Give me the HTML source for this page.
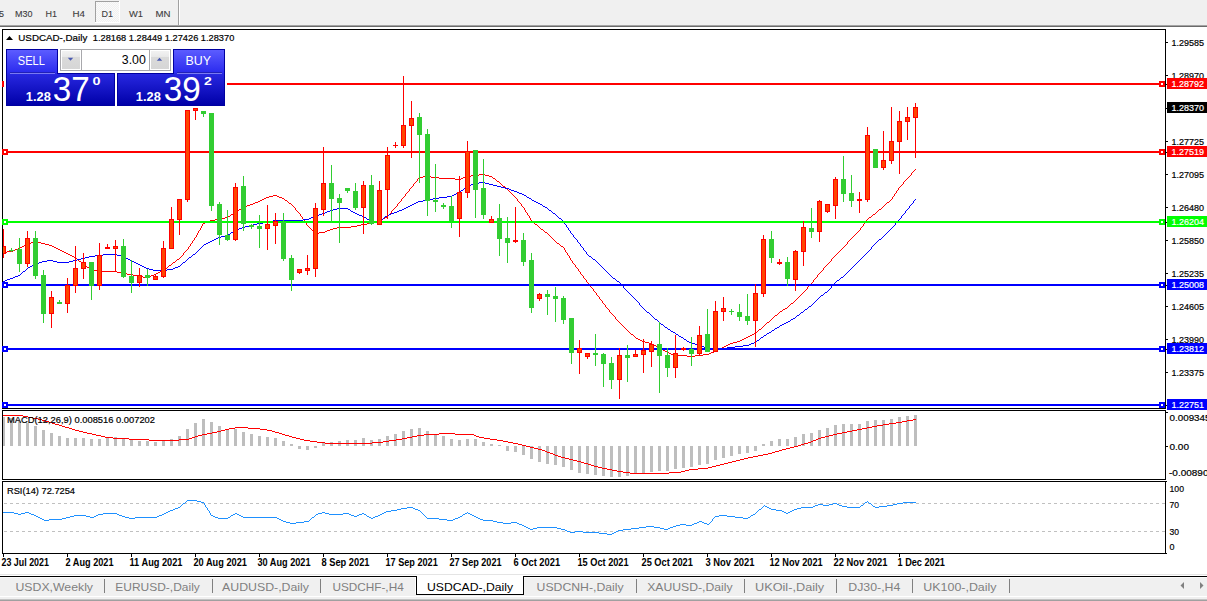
<!DOCTYPE html>
<html><head><meta charset="utf-8"><title>USDCAD-,Daily</title>
<style>html,body{margin:0;padding:0;background:#fff;width:1207px;height:601px;overflow:hidden}
text{font-family:"Liberation Sans", sans-serif;}</style></head>
<body>
<svg width="1207" height="601" viewBox="0 0 1207 601" shape-rendering="crispEdges" style="display:block">
<defs>
<clipPath id="cmain"><rect x="3" y="30" width="1162" height="378"/></clipPath>
<clipPath id="cmacd"><rect x="3" y="411" width="1162" height="68"/></clipPath>
<clipPath id="crsi"><rect x="3" y="482" width="1162" height="71"/></clipPath>
<linearGradient id="gbtn" x1="0" y1="0" x2="0" y2="1"><stop offset="0" stop-color="#5c5cff"/><stop offset="1" stop-color="#2a2aee"/></linearGradient>
<linearGradient id="gprice" x1="0" y1="0" x2="0" y2="1"><stop offset="0" stop-color="#2828e0"/><stop offset="1" stop-color="#0000a8"/></linearGradient>
<linearGradient id="garr" x1="0" y1="0" x2="0" y2="1"><stop offset="0" stop-color="#f2f2f2"/><stop offset="0.33" stop-color="#e8e8e8"/><stop offset="0.33" stop-color="#dadada"/><stop offset="1" stop-color="#d6d6d6"/></linearGradient>
<pattern id="dith" width="2" height="2" patternUnits="userSpaceOnUse"><rect width="2" height="2" fill="#f0f0f0"/><rect width="1" height="1" fill="#fafafa"/><rect x="1" y="1" width="1" height="1" fill="#fafafa"/></pattern>
</defs>
<rect x="0" y="0" width="1207" height="601" fill="#ffffff"/>
<rect x="0" y="0" width="1207" height="25" fill="#f0f0f0"/>
<rect x="0" y="25" width="1207" height="1" fill="#a4a4a4"/>
<rect x="0" y="26" width="1207" height="1" fill="#6a6a6a"/>
<rect x="95" y="1" width="25" height="22" fill="url(#dith)"/>
<rect x="95" y="1" width="25" height="1" fill="#a0a0a0"/><rect x="95" y="1" width="1" height="22" fill="#a0a0a0"/>
<rect x="95" y="22" width="25" height="1" fill="#ffffff"/><rect x="119" y="1" width="1" height="22" fill="#ffffff"/>
<rect x="178" y="0" width="1" height="25" fill="#a0a0a0"/><rect x="179" y="0" width="1" height="25" fill="#ffffff"/>
<text x="-1" y="17" font-family='"Liberation Sans", sans-serif' font-size="9.5" font-weight="400" fill="#3c3c3c" stroke="#3c3c3c" stroke-width="0.1" text-anchor="start" textLength="5" lengthAdjust="spacingAndGlyphs">5</text>
<text x="15" y="17" font-family='"Liberation Sans", sans-serif' font-size="9.5" font-weight="400" fill="#3c3c3c" stroke="#3c3c3c" stroke-width="0.1" text-anchor="start" textLength="17.5" lengthAdjust="spacingAndGlyphs">M30</text>
<text x="45.5" y="17" font-family='"Liberation Sans", sans-serif' font-size="9.5" font-weight="400" fill="#3c3c3c" stroke="#3c3c3c" stroke-width="0.1" text-anchor="start" textLength="11.5" lengthAdjust="spacingAndGlyphs">H1</text>
<text x="72.5" y="17" font-family='"Liberation Sans", sans-serif' font-size="9.5" font-weight="400" fill="#3c3c3c" stroke="#3c3c3c" stroke-width="0.1" text-anchor="start" textLength="12.5" lengthAdjust="spacingAndGlyphs">H4</text>
<text x="101.5" y="17" font-family='"Liberation Sans", sans-serif' font-size="9.5" font-weight="400" fill="#3c3c3c" stroke="#3c3c3c" stroke-width="0.1" text-anchor="start" textLength="11.5" lengthAdjust="spacingAndGlyphs">D1</text>
<text x="129" y="17" font-family='"Liberation Sans", sans-serif' font-size="9.5" font-weight="400" fill="#3c3c3c" stroke="#3c3c3c" stroke-width="0.1" text-anchor="start" textLength="14" lengthAdjust="spacingAndGlyphs">W1</text>
<text x="155.5" y="17" font-family='"Liberation Sans", sans-serif' font-size="9.5" font-weight="400" fill="#3c3c3c" stroke="#3c3c3c" stroke-width="0.1" text-anchor="start" textLength="15" lengthAdjust="spacingAndGlyphs">MN</text>
<rect x="2" y="29" width="1164" height="1" fill="#000"/><rect x="2" y="408" width="1164" height="1" fill="#000"/><rect x="2" y="29" width="1" height="380" fill="#000"/><rect x="1165" y="29" width="1" height="380" fill="#000"/>
<rect x="2" y="410" width="1164" height="1" fill="#000"/><rect x="2" y="479" width="1164" height="1" fill="#000"/><rect x="2" y="410" width="1" height="70" fill="#000"/><rect x="1165" y="410" width="1" height="70" fill="#000"/>
<rect x="2" y="481" width="1164" height="1" fill="#000"/><rect x="2" y="553" width="1164" height="1" fill="#000"/><rect x="2" y="481" width="1" height="73" fill="#000"/><rect x="1165" y="481" width="1" height="73" fill="#000"/>
<path d="M915 169h1v1h-1zM914 170h1v1h-1zM913 171h1v1h-1zM912 172h1v1h-1zM911 173h1v1h-1zM479 174h6v1h-6zM911 174h1v1h-1zM471 175h8v1h-8zM485 175h4v1h-4zM910 175h1v1h-1zM423 176h8v1h-8zM466 176h5v1h-5zM489 176h3v1h-3zM909 176h1v1h-1zM419 177h4v1h-4zM431 177h8v1h-8zM463 177h3v1h-3zM492 177h1v1h-1zM908 177h1v1h-1zM418 178h1v1h-1zM439 178h16v1h-16zM461 178h2v1h-2zM493 178h2v1h-2zM907 178h1v1h-1zM417 179h1v1h-1zM455 179h6v1h-6zM495 179h1v1h-1zM906 179h1v1h-1zM417 180h1v1h-1zM496 180h1v1h-1zM905 180h1v1h-1zM416 181h1v1h-1zM497 181h2v1h-2zM904 181h1v1h-1zM415 182h1v1h-1zM499 182h1v1h-1zM903 182h1v1h-1zM414 183h1v1h-1zM500 183h1v1h-1zM903 183h1v1h-1zM413 184h1v1h-1zM501 184h1v1h-1zM902 184h1v1h-1zM413 185h1v1h-1zM502 185h1v1h-1zM901 185h1v1h-1zM412 186h1v1h-1zM503 186h2v1h-2zM900 186h1v1h-1zM411 187h1v1h-1zM505 187h1v1h-1zM899 187h1v1h-1zM410 188h1v1h-1zM506 188h1v1h-1zM898 188h1v1h-1zM409 189h1v1h-1zM507 189h1v1h-1zM898 189h1v1h-1zM409 190h1v1h-1zM508 190h1v1h-1zM897 190h1v1h-1zM408 191h1v1h-1zM509 191h1v1h-1zM896 191h1v1h-1zM407 192h1v1h-1zM510 192h1v1h-1zM896 192h1v1h-1zM406 193h1v1h-1zM511 193h1v1h-1zM895 193h1v1h-1zM405 194h1v1h-1zM512 194h1v1h-1zM894 194h1v1h-1zM273 195h4v1h-4zM405 195h1v1h-1zM513 195h1v1h-1zM894 195h1v1h-1zM269 196h4v1h-4zM277 196h2v1h-2zM404 196h1v1h-1zM514 196h1v1h-1zM893 196h1v1h-1zM266 197h3v1h-3zM279 197h3v1h-3zM403 197h1v1h-1zM515 197h1v1h-1zM892 197h1v1h-1zM264 198h2v1h-2zM282 198h2v1h-2zM402 198h1v1h-1zM516 198h1v1h-1zM892 198h1v1h-1zM262 199h2v1h-2zM284 199h1v1h-1zM401 199h1v1h-1zM517 199h1v1h-1zM891 199h1v1h-1zM260 200h2v1h-2zM285 200h2v1h-2zM401 200h1v1h-1zM517 200h1v1h-1zM890 200h1v1h-1zM258 201h2v1h-2zM287 201h1v1h-1zM400 201h1v1h-1zM518 201h1v1h-1zM889 201h1v1h-1zM255 202h3v1h-3zM288 202h1v1h-1zM399 202h1v1h-1zM519 202h1v1h-1zM887 202h2v1h-2zM253 203h2v1h-2zM289 203h2v1h-2zM398 203h1v1h-1zM520 203h1v1h-1zM886 203h1v1h-1zM250 204h3v1h-3zM291 204h1v1h-1zM397 204h1v1h-1zM521 204h1v1h-1zM885 204h1v1h-1zM247 205h3v1h-3zM292 205h1v1h-1zM397 205h1v1h-1zM521 205h1v1h-1zM884 205h1v1h-1zM245 206h2v1h-2zM293 206h1v1h-1zM396 206h1v1h-1zM522 206h1v1h-1zM883 206h1v1h-1zM243 207h2v1h-2zM294 207h1v1h-1zM395 207h1v1h-1zM523 207h1v1h-1zM882 207h1v1h-1zM241 208h2v1h-2zM295 208h1v1h-1zM394 208h1v1h-1zM524 208h1v1h-1zM881 208h1v1h-1zM239 209h2v1h-2zM295 209h1v1h-1zM393 209h1v1h-1zM524 209h1v1h-1zM879 209h2v1h-2zM238 210h1v1h-1zM296 210h1v1h-1zM392 210h1v1h-1zM525 210h1v1h-1zM878 210h1v1h-1zM236 211h2v1h-2zM297 211h1v1h-1zM391 211h1v1h-1zM525 211h1v1h-1zM877 211h1v1h-1zM235 212h1v1h-1zM298 212h1v1h-1zM391 212h1v1h-1zM526 212h1v1h-1zM876 212h1v1h-1zM233 213h2v1h-2zM299 213h1v1h-1zM390 213h1v1h-1zM527 213h1v1h-1zM875 213h1v1h-1zM231 214h2v1h-2zM300 214h1v1h-1zM389 214h1v1h-1zM527 214h1v1h-1zM873 214h2v1h-2zM230 215h1v1h-1zM300 215h1v1h-1zM388 215h1v1h-1zM528 215h1v1h-1zM872 215h1v1h-1zM228 216h2v1h-2zM301 216h1v1h-1zM387 216h1v1h-1zM529 216h1v1h-1zM871 216h1v1h-1zM225 217h3v1h-3zM302 217h1v1h-1zM385 217h2v1h-2zM529 217h1v1h-1zM869 217h2v1h-2zM221 218h4v1h-4zM302 218h1v1h-1zM383 218h2v1h-2zM530 218h1v1h-1zM868 218h1v1h-1zM215 219h6v1h-6zM303 219h1v1h-1zM382 219h1v1h-1zM530 219h1v1h-1zM867 219h1v1h-1zM210 220h5v1h-5zM304 220h1v1h-1zM380 220h2v1h-2zM531 220h1v1h-1zM866 220h1v1h-1zM207 221h3v1h-3zM304 221h1v1h-1zM377 221h3v1h-3zM532 221h1v1h-1zM866 221h1v1h-1zM205 222h2v1h-2zM305 222h1v1h-1zM373 222h4v1h-4zM533 222h1v1h-1zM865 222h1v1h-1zM203 223h2v1h-2zM306 223h1v1h-1zM367 223h6v1h-6zM534 223h1v1h-1zM864 223h1v1h-1zM202 224h1v1h-1zM306 224h1v1h-1zM361 224h6v1h-6zM535 224h2v1h-2zM863 224h1v1h-1zM202 225h1v1h-1zM307 225h1v1h-1zM357 225h4v1h-4zM537 225h1v1h-1zM863 225h1v1h-1zM201 226h1v1h-1zM308 226h1v1h-1zM351 226h6v1h-6zM538 226h1v1h-1zM862 226h1v1h-1zM201 227h1v1h-1zM309 227h1v1h-1zM337 227h14v1h-14zM539 227h1v1h-1zM861 227h1v1h-1zM200 228h1v1h-1zM310 228h1v1h-1zM333 228h4v1h-4zM540 228h1v1h-1zM860 228h1v1h-1zM200 229h1v1h-1zM311 229h1v1h-1zM330 229h3v1h-3zM541 229h2v1h-2zM860 229h1v1h-1zM199 230h1v1h-1zM312 230h1v1h-1zM327 230h3v1h-3zM543 230h1v1h-1zM859 230h1v1h-1zM198 231h1v1h-1zM313 231h1v1h-1zM325 231h2v1h-2zM544 231h1v1h-1zM858 231h1v1h-1zM198 232h1v1h-1zM314 232h1v1h-1zM319 232h6v1h-6zM545 232h2v1h-2zM857 232h1v1h-1zM197 233h1v1h-1zM315 233h4v1h-4zM547 233h1v1h-1zM856 233h1v1h-1zM197 234h1v1h-1zM548 234h1v1h-1zM855 234h1v1h-1zM196 235h1v1h-1zM549 235h1v1h-1zM854 235h1v1h-1zM196 236h1v1h-1zM550 236h1v1h-1zM853 236h1v1h-1zM195 237h1v1h-1zM551 237h1v1h-1zM852 237h1v1h-1zM194 238h1v1h-1zM552 238h1v1h-1zM851 238h1v1h-1zM194 239h1v1h-1zM553 239h1v1h-1zM850 239h1v1h-1zM193 240h1v1h-1zM554 240h1v1h-1zM849 240h1v1h-1zM34 241h3v1h-3zM192 241h1v1h-1zM555 241h1v1h-1zM848 241h1v1h-1zM31 242h3v1h-3zM37 242h4v1h-4zM192 242h1v1h-1zM556 242h1v1h-1zM847 242h1v1h-1zM29 243h2v1h-2zM41 243h4v1h-4zM191 243h1v1h-1zM557 243h2v1h-2zM847 243h1v1h-1zM26 244h3v1h-3zM45 244h4v1h-4zM190 244h1v1h-1zM559 244h1v1h-1zM846 244h1v1h-1zM24 245h2v1h-2zM49 245h3v1h-3zM190 245h1v1h-1zM560 245h1v1h-1zM845 245h1v1h-1zM22 246h2v1h-2zM52 246h2v1h-2zM189 246h1v1h-1zM561 246h2v1h-2zM844 246h1v1h-1zM20 247h2v1h-2zM54 247h2v1h-2zM188 247h1v1h-1zM563 247h1v1h-1zM843 247h1v1h-1zM18 248h2v1h-2zM56 248h2v1h-2zM188 248h1v1h-1zM564 248h1v1h-1zM842 248h1v1h-1zM15 249h3v1h-3zM58 249h2v1h-2zM187 249h1v1h-1zM564 249h1v1h-1zM841 249h1v1h-1zM13 250h2v1h-2zM60 250h2v1h-2zM186 250h1v1h-1zM565 250h1v1h-1zM840 250h1v1h-1zM7 251h6v1h-6zM62 251h2v1h-2zM185 251h1v1h-1zM565 251h1v1h-1zM839 251h1v1h-1zM3 252h4v1h-4zM64 252h2v1h-2zM184 252h1v1h-1zM566 252h1v1h-1zM838 252h1v1h-1zM66 253h2v1h-2zM183 253h1v1h-1zM567 253h1v1h-1zM837 253h1v1h-1zM68 254h2v1h-2zM183 254h1v1h-1zM567 254h1v1h-1zM836 254h1v1h-1zM70 255h2v1h-2zM182 255h1v1h-1zM568 255h1v1h-1zM835 255h1v1h-1zM72 256h2v1h-2zM181 256h1v1h-1zM569 256h1v1h-1zM834 256h1v1h-1zM74 257h2v1h-2zM180 257h1v1h-1zM569 257h1v1h-1zM833 257h1v1h-1zM76 258h1v1h-1zM179 258h1v1h-1zM570 258h1v1h-1zM832 258h1v1h-1zM77 259h1v1h-1zM177 259h2v1h-2zM570 259h1v1h-1zM831 259h1v1h-1zM78 260h1v1h-1zM176 260h1v1h-1zM571 260h1v1h-1zM831 260h1v1h-1zM79 261h2v1h-2zM175 261h1v1h-1zM572 261h1v1h-1zM830 261h1v1h-1zM81 262h1v1h-1zM173 262h2v1h-2zM572 262h1v1h-1zM829 262h1v1h-1zM82 263h1v1h-1zM172 263h1v1h-1zM573 263h1v1h-1zM828 263h1v1h-1zM83 264h1v1h-1zM171 264h1v1h-1zM574 264h1v1h-1zM827 264h1v1h-1zM84 265h2v1h-2zM169 265h2v1h-2zM575 265h1v1h-1zM826 265h1v1h-1zM86 266h1v1h-1zM168 266h1v1h-1zM575 266h1v1h-1zM825 266h1v1h-1zM87 267h2v1h-2zM167 267h1v1h-1zM576 267h1v1h-1zM824 267h1v1h-1zM89 268h2v1h-2zM165 268h2v1h-2zM577 268h1v1h-1zM823 268h1v1h-1zM91 269h2v1h-2zM164 269h1v1h-1zM578 269h1v1h-1zM823 269h1v1h-1zM93 270h4v1h-4zM162 270h2v1h-2zM578 270h1v1h-1zM822 270h1v1h-1zM97 271h20v1h-20zM160 271h2v1h-2zM579 271h1v1h-1zM821 271h1v1h-1zM117 272h4v1h-4zM158 272h2v1h-2zM580 272h1v1h-1zM820 272h1v1h-1zM121 273h6v1h-6zM156 273h2v1h-2zM580 273h1v1h-1zM819 273h1v1h-1zM127 274h6v1h-6zM154 274h2v1h-2zM581 274h1v1h-1zM818 274h1v1h-1zM133 275h4v1h-4zM151 275h3v1h-3zM582 275h1v1h-1zM817 275h1v1h-1zM137 276h6v1h-6zM149 276h2v1h-2zM583 276h1v1h-1zM817 276h1v1h-1zM143 277h6v1h-6zM583 277h1v1h-1zM816 277h1v1h-1zM584 278h1v1h-1zM815 278h1v1h-1zM585 279h1v1h-1zM814 279h1v1h-1zM586 280h1v1h-1zM813 280h1v1h-1zM586 281h1v1h-1zM813 281h1v1h-1zM587 282h1v1h-1zM812 282h1v1h-1zM588 283h1v1h-1zM811 283h1v1h-1zM589 284h1v1h-1zM810 284h1v1h-1zM589 285h1v1h-1zM809 285h1v1h-1zM590 286h1v1h-1zM808 286h1v1h-1zM591 287h1v1h-1zM807 287h1v1h-1zM592 288h1v1h-1zM807 288h1v1h-1zM593 289h1v1h-1zM806 289h1v1h-1zM593 290h1v1h-1zM805 290h1v1h-1zM594 291h1v1h-1zM804 291h1v1h-1zM595 292h1v1h-1zM803 292h1v1h-1zM596 293h1v1h-1zM802 293h1v1h-1zM596 294h1v1h-1zM801 294h1v1h-1zM597 295h1v1h-1zM800 295h1v1h-1zM598 296h1v1h-1zM799 296h1v1h-1zM599 297h1v1h-1zM798 297h1v1h-1zM599 298h1v1h-1zM797 298h1v1h-1zM600 299h1v1h-1zM796 299h1v1h-1zM601 300h1v1h-1zM795 300h1v1h-1zM602 301h1v1h-1zM794 301h1v1h-1zM602 302h1v1h-1zM793 302h1v1h-1zM603 303h1v1h-1zM791 303h2v1h-2zM604 304h1v1h-1zM790 304h1v1h-1zM605 305h1v1h-1zM789 305h1v1h-1zM605 306h1v1h-1zM788 306h1v1h-1zM606 307h1v1h-1zM787 307h1v1h-1zM607 308h1v1h-1zM785 308h2v1h-2zM608 309h1v1h-1zM783 309h2v1h-2zM609 310h1v1h-1zM782 310h1v1h-1zM609 311h1v1h-1zM780 311h2v1h-2zM610 312h1v1h-1zM779 312h1v1h-1zM611 313h1v1h-1zM778 313h1v1h-1zM612 314h1v1h-1zM777 314h1v1h-1zM613 315h1v1h-1zM775 315h2v1h-2zM614 316h1v1h-1zM774 316h1v1h-1zM615 317h1v1h-1zM773 317h1v1h-1zM615 318h1v1h-1zM772 318h1v1h-1zM616 319h1v1h-1zM771 319h1v1h-1zM617 320h1v1h-1zM770 320h1v1h-1zM618 321h1v1h-1zM769 321h1v1h-1zM619 322h1v1h-1zM767 322h2v1h-2zM620 323h1v1h-1zM766 323h1v1h-1zM621 324h1v1h-1zM765 324h1v1h-1zM622 325h1v1h-1zM764 325h1v1h-1zM623 326h1v1h-1zM763 326h1v1h-1zM624 327h1v1h-1zM762 327h1v1h-1zM625 328h1v1h-1zM761 328h1v1h-1zM626 329h1v1h-1zM759 329h2v1h-2zM627 330h1v1h-1zM758 330h1v1h-1zM628 331h1v1h-1zM757 331h1v1h-1zM629 332h1v1h-1zM756 332h1v1h-1zM630 333h1v1h-1zM754 333h2v1h-2zM631 334h2v1h-2zM752 334h2v1h-2zM633 335h1v1h-1zM750 335h2v1h-2zM634 336h1v1h-1zM748 336h2v1h-2zM635 337h1v1h-1zM746 337h2v1h-2zM636 338h2v1h-2zM744 338h2v1h-2zM638 339h2v1h-2zM742 339h2v1h-2zM640 340h2v1h-2zM740 340h2v1h-2zM642 341h3v1h-3zM737 341h3v1h-3zM645 342h4v1h-4zM733 342h4v1h-4zM649 343h3v1h-3zM730 343h3v1h-3zM652 344h2v1h-2zM728 344h2v1h-2zM654 345h2v1h-2zM726 345h2v1h-2zM656 346h2v1h-2zM724 346h2v1h-2zM658 347h2v1h-2zM722 347h2v1h-2zM660 348h2v1h-2zM720 348h2v1h-2zM662 349h1v1h-1zM718 349h2v1h-2zM663 350h2v1h-2zM716 350h2v1h-2zM665 351h2v1h-2zM714 351h2v1h-2zM667 352h2v1h-2zM711 352h3v1h-3zM669 353h2v1h-2zM709 353h2v1h-2zM671 354h3v1h-3zM703 354h6v1h-6zM674 355h13v1h-13zM695 355h8v1h-8zM687 356h8v1h-8z" fill="#ff0000"/>
<path d="M479 182h6v1h-6zM474 183h5v1h-5zM485 183h4v1h-4zM471 184h3v1h-3zM489 184h4v1h-4zM469 185h2v1h-2zM493 185h4v1h-4zM467 186h2v1h-2zM497 186h4v1h-4zM465 187h2v1h-2zM501 187h4v1h-4zM464 188h1v1h-1zM505 188h4v1h-4zM463 189h1v1h-1zM509 189h2v1h-2zM461 190h2v1h-2zM511 190h3v1h-3zM460 191h1v1h-1zM514 191h3v1h-3zM458 192h2v1h-2zM517 192h2v1h-2zM456 193h2v1h-2zM519 193h3v1h-3zM454 194h2v1h-2zM522 194h2v1h-2zM452 195h2v1h-2zM524 195h2v1h-2zM447 196h5v1h-5zM526 196h1v1h-1zM439 197h8v1h-8zM527 197h2v1h-2zM433 198h6v1h-6zM529 198h2v1h-2zM429 199h4v1h-4zM531 199h1v1h-1zM915 199h1v1h-1zM423 200h6v1h-6zM532 200h2v1h-2zM914 200h1v1h-1zM418 201h5v1h-5zM534 201h2v1h-2zM913 201h1v1h-1zM416 202h2v1h-2zM536 202h2v1h-2zM913 202h1v1h-1zM414 203h2v1h-2zM538 203h2v1h-2zM912 203h1v1h-1zM412 204h2v1h-2zM540 204h2v1h-2zM911 204h1v1h-1zM410 205h2v1h-2zM542 205h1v1h-1zM910 205h1v1h-1zM408 206h2v1h-2zM543 206h2v1h-2zM909 206h1v1h-1zM406 207h2v1h-2zM545 207h2v1h-2zM909 207h1v1h-1zM337 208h11v1h-11zM404 208h2v1h-2zM547 208h1v1h-1zM908 208h1v1h-1zM333 209h4v1h-4zM348 209h2v1h-2zM402 209h2v1h-2zM548 209h1v1h-1zM907 209h1v1h-1zM330 210h3v1h-3zM350 210h1v1h-1zM399 210h3v1h-3zM549 210h2v1h-2zM906 210h1v1h-1zM327 211h3v1h-3zM351 211h2v1h-2zM397 211h2v1h-2zM551 211h1v1h-1zM905 211h1v1h-1zM325 212h2v1h-2zM353 212h2v1h-2zM394 212h3v1h-3zM552 212h1v1h-1zM905 212h1v1h-1zM322 213h3v1h-3zM355 213h2v1h-2zM391 213h3v1h-3zM553 213h2v1h-2zM904 213h1v1h-1zM319 214h3v1h-3zM357 214h2v1h-2zM389 214h2v1h-2zM555 214h1v1h-1zM903 214h1v1h-1zM317 215h2v1h-2zM359 215h3v1h-3zM387 215h2v1h-2zM556 215h1v1h-1zM902 215h1v1h-1zM314 216h3v1h-3zM362 216h2v1h-2zM385 216h2v1h-2zM557 216h1v1h-1zM901 216h1v1h-1zM311 217h3v1h-3zM364 217h2v1h-2zM384 217h1v1h-1zM558 217h1v1h-1zM901 217h1v1h-1zM309 218h2v1h-2zM366 218h1v1h-1zM383 218h1v1h-1zM559 218h2v1h-2zM900 218h1v1h-1zM303 219h6v1h-6zM367 219h2v1h-2zM381 219h2v1h-2zM561 219h1v1h-1zM899 219h1v1h-1zM273 220h30v1h-30zM369 220h2v1h-2zM380 220h1v1h-1zM562 220h1v1h-1zM898 220h1v1h-1zM269 221h4v1h-4zM371 221h9v1h-9zM563 221h1v1h-1zM897 221h1v1h-1zM263 222h6v1h-6zM564 222h1v1h-1zM896 222h1v1h-1zM257 223h6v1h-6zM564 223h1v1h-1zM895 223h1v1h-1zM253 224h4v1h-4zM565 224h1v1h-1zM895 224h1v1h-1zM249 225h4v1h-4zM566 225h1v1h-1zM894 225h1v1h-1zM245 226h4v1h-4zM566 226h1v1h-1zM893 226h1v1h-1zM242 227h3v1h-3zM567 227h1v1h-1zM892 227h1v1h-1zM239 228h3v1h-3zM568 228h1v1h-1zM891 228h1v1h-1zM237 229h2v1h-2zM568 229h1v1h-1zM890 229h1v1h-1zM235 230h2v1h-2zM569 230h1v1h-1zM889 230h1v1h-1zM233 231h2v1h-2zM570 231h1v1h-1zM888 231h1v1h-1zM231 232h2v1h-2zM570 232h1v1h-1zM887 232h1v1h-1zM230 233h1v1h-1zM571 233h1v1h-1zM886 233h1v1h-1zM228 234h2v1h-2zM572 234h1v1h-1zM885 234h1v1h-1zM225 235h3v1h-3zM573 235h1v1h-1zM884 235h1v1h-1zM221 236h4v1h-4zM573 236h1v1h-1zM883 236h1v1h-1zM218 237h3v1h-3zM574 237h1v1h-1zM882 237h1v1h-1zM216 238h2v1h-2zM575 238h1v1h-1zM881 238h1v1h-1zM214 239h2v1h-2zM576 239h1v1h-1zM879 239h2v1h-2zM212 240h2v1h-2zM577 240h1v1h-1zM878 240h1v1h-1zM210 241h2v1h-2zM577 241h1v1h-1zM877 241h1v1h-1zM208 242h2v1h-2zM578 242h1v1h-1zM876 242h1v1h-1zM206 243h2v1h-2zM579 243h1v1h-1zM875 243h1v1h-1zM204 244h2v1h-2zM580 244h1v1h-1zM874 244h1v1h-1zM203 245h1v1h-1zM580 245h1v1h-1zM873 245h1v1h-1zM202 246h1v1h-1zM581 246h1v1h-1zM872 246h1v1h-1zM201 247h1v1h-1zM582 247h1v1h-1zM871 247h1v1h-1zM200 248h1v1h-1zM583 248h1v1h-1zM871 248h1v1h-1zM199 249h1v1h-1zM583 249h1v1h-1zM870 249h1v1h-1zM198 250h1v1h-1zM584 250h1v1h-1zM869 250h1v1h-1zM197 251h1v1h-1zM585 251h1v1h-1zM868 251h1v1h-1zM196 252h1v1h-1zM586 252h1v1h-1zM867 252h1v1h-1zM195 253h1v1h-1zM586 253h1v1h-1zM866 253h1v1h-1zM103 254h14v1h-14zM193 254h2v1h-2zM587 254h1v1h-1zM865 254h1v1h-1zM95 255h8v1h-8zM117 255h4v1h-4zM192 255h1v1h-1zM588 255h1v1h-1zM864 255h1v1h-1zM89 256h6v1h-6zM121 256h3v1h-3zM191 256h1v1h-1zM589 256h2v1h-2zM863 256h1v1h-1zM85 257h4v1h-4zM124 257h2v1h-2zM189 257h2v1h-2zM591 257h1v1h-1zM862 257h1v1h-1zM81 258h4v1h-4zM126 258h2v1h-2zM188 258h1v1h-1zM592 258h1v1h-1zM861 258h1v1h-1zM77 259h4v1h-4zM128 259h2v1h-2zM187 259h1v1h-1zM593 259h2v1h-2zM860 259h1v1h-1zM47 260h6v1h-6zM73 260h4v1h-4zM130 260h2v1h-2zM186 260h1v1h-1zM595 260h1v1h-1zM859 260h1v1h-1zM42 261h5v1h-5zM53 261h4v1h-4zM69 261h4v1h-4zM132 261h2v1h-2zM185 261h1v1h-1zM596 261h1v1h-1zM858 261h1v1h-1zM39 262h3v1h-3zM57 262h12v1h-12zM134 262h2v1h-2zM183 262h2v1h-2zM597 262h1v1h-1zM857 262h1v1h-1zM37 263h2v1h-2zM136 263h2v1h-2zM182 263h1v1h-1zM598 263h1v1h-1zM856 263h1v1h-1zM34 264h3v1h-3zM138 264h2v1h-2zM181 264h1v1h-1zM599 264h1v1h-1zM855 264h1v1h-1zM32 265h2v1h-2zM140 265h2v1h-2zM180 265h1v1h-1zM600 265h1v1h-1zM854 265h1v1h-1zM30 266h2v1h-2zM142 266h2v1h-2zM178 266h2v1h-2zM601 266h1v1h-1zM853 266h1v1h-1zM28 267h2v1h-2zM144 267h2v1h-2zM175 267h3v1h-3zM602 267h1v1h-1zM852 267h1v1h-1zM27 268h1v1h-1zM146 268h3v1h-3zM173 268h2v1h-2zM603 268h1v1h-1zM851 268h1v1h-1zM26 269h1v1h-1zM149 269h4v1h-4zM167 269h6v1h-6zM604 269h1v1h-1zM850 269h1v1h-1zM25 270h1v1h-1zM153 270h14v1h-14zM605 270h1v1h-1zM849 270h1v1h-1zM23 271h2v1h-2zM606 271h1v1h-1zM848 271h1v1h-1zM22 272h1v1h-1zM607 272h1v1h-1zM847 272h1v1h-1zM21 273h1v1h-1zM608 273h1v1h-1zM846 273h1v1h-1zM20 274h1v1h-1zM609 274h1v1h-1zM845 274h1v1h-1zM18 275h2v1h-2zM610 275h1v1h-1zM844 275h1v1h-1zM15 276h3v1h-3zM611 276h1v1h-1zM843 276h1v1h-1zM13 277h2v1h-2zM612 277h1v1h-1zM841 277h2v1h-2zM10 278h3v1h-3zM613 278h2v1h-2zM840 278h1v1h-1zM7 279h3v1h-3zM615 279h1v1h-1zM839 279h1v1h-1zM5 280h2v1h-2zM616 280h1v1h-1zM837 280h2v1h-2zM3 281h2v1h-2zM617 281h2v1h-2zM836 281h1v1h-1zM619 282h1v1h-1zM835 282h1v1h-1zM620 283h1v1h-1zM834 283h1v1h-1zM621 284h1v1h-1zM833 284h1v1h-1zM622 285h1v1h-1zM832 285h1v1h-1zM623 286h1v1h-1zM831 286h1v1h-1zM623 287h1v1h-1zM831 287h1v1h-1zM624 288h1v1h-1zM830 288h1v1h-1zM625 289h1v1h-1zM829 289h1v1h-1zM626 290h1v1h-1zM828 290h1v1h-1zM627 291h1v1h-1zM827 291h1v1h-1zM628 292h1v1h-1zM825 292h2v1h-2zM629 293h1v1h-1zM824 293h1v1h-1zM630 294h1v1h-1zM823 294h1v1h-1zM631 295h1v1h-1zM821 295h2v1h-2zM632 296h1v1h-1zM820 296h1v1h-1zM633 297h1v1h-1zM819 297h1v1h-1zM634 298h1v1h-1zM818 298h1v1h-1zM635 299h1v1h-1zM817 299h1v1h-1zM636 300h1v1h-1zM816 300h1v1h-1zM637 301h1v1h-1zM815 301h1v1h-1zM638 302h1v1h-1zM814 302h1v1h-1zM639 303h1v1h-1zM813 303h1v1h-1zM639 304h1v1h-1zM812 304h1v1h-1zM640 305h1v1h-1zM811 305h1v1h-1zM641 306h1v1h-1zM809 306h2v1h-2zM642 307h1v1h-1zM808 307h1v1h-1zM643 308h1v1h-1zM807 308h1v1h-1zM644 309h1v1h-1zM805 309h2v1h-2zM645 310h1v1h-1zM804 310h1v1h-1zM646 311h1v1h-1zM803 311h1v1h-1zM647 312h2v1h-2zM801 312h2v1h-2zM649 313h1v1h-1zM800 313h1v1h-1zM650 314h1v1h-1zM799 314h1v1h-1zM651 315h1v1h-1zM797 315h2v1h-2zM652 316h1v1h-1zM796 316h1v1h-1zM653 317h1v1h-1zM795 317h1v1h-1zM654 318h1v1h-1zM793 318h2v1h-2zM655 319h2v1h-2zM791 319h2v1h-2zM657 320h1v1h-1zM790 320h1v1h-1zM658 321h1v1h-1zM788 321h2v1h-2zM659 322h1v1h-1zM786 322h2v1h-2zM660 323h1v1h-1zM784 323h2v1h-2zM661 324h2v1h-2zM782 324h2v1h-2zM663 325h1v1h-1zM780 325h2v1h-2zM664 326h1v1h-1zM779 326h1v1h-1zM665 327h2v1h-2zM777 327h2v1h-2zM667 328h1v1h-1zM775 328h2v1h-2zM668 329h2v1h-2zM774 329h1v1h-1zM670 330h1v1h-1zM772 330h2v1h-2zM671 331h2v1h-2zM771 331h1v1h-1zM673 332h2v1h-2zM769 332h2v1h-2zM675 333h1v1h-1zM767 333h2v1h-2zM676 334h2v1h-2zM766 334h1v1h-1zM678 335h1v1h-1zM764 335h2v1h-2zM679 336h2v1h-2zM763 336h1v1h-1zM681 337h2v1h-2zM761 337h2v1h-2zM683 338h1v1h-1zM760 338h1v1h-1zM684 339h2v1h-2zM759 339h1v1h-1zM686 340h1v1h-1zM757 340h2v1h-2zM687 341h2v1h-2zM756 341h1v1h-1zM689 342h2v1h-2zM754 342h2v1h-2zM691 343h4v1h-4zM751 343h3v1h-3zM695 344h5v1h-5zM749 344h2v1h-2zM700 345h2v1h-2zM743 345h6v1h-6zM702 346h2v1h-2zM735 346h8v1h-8zM704 347h2v1h-2zM727 347h8v1h-8zM706 348h21v1h-21z" fill="#0000ff"/>
<rect x="3" y="83" width="1162" height="2" fill="#ff0000"/>
<rect x="3" y="151" width="1162" height="2" fill="#ff0000"/>
<rect x="3" y="221" width="1162" height="2" fill="#00ff00"/>
<rect x="3" y="284" width="1162" height="2" fill="#0000ff"/>
<rect x="3" y="348" width="1162" height="2" fill="#0000ff"/>
<rect x="3" y="404" width="1162" height="2" fill="#0000ff"/>
<g clip-path="url(#cmain)">
<rect x="3" y="229" width="1" height="29" fill="#ff0000"/>
<rect x="1" y="246" width="5" height="8" fill="#ff0000"/>
<rect x="2" y="247" width="3" height="6" fill="#ff4500"/>
<rect x="11" y="248" width="1" height="4" fill="#32cd32"/>
<rect x="9" y="250" width="5" height="1" fill="#32cd32"/>
<rect x="19" y="238" width="1" height="34" fill="#32cd32"/>
<rect x="17" y="249" width="5" height="15" fill="#32cd32"/>
<rect x="18" y="250" width="3" height="13" fill="#32cd32"/>
<rect x="27" y="231" width="1" height="36" fill="#ff0000"/>
<rect x="25" y="238" width="5" height="26" fill="#ff0000"/>
<rect x="26" y="239" width="3" height="24" fill="#ff4500"/>
<rect x="35" y="231" width="1" height="48" fill="#32cd32"/>
<rect x="33" y="238" width="5" height="38" fill="#32cd32"/>
<rect x="34" y="239" width="3" height="36" fill="#32cd32"/>
<rect x="43" y="270" width="1" height="53" fill="#32cd32"/>
<rect x="41" y="275" width="5" height="39" fill="#32cd32"/>
<rect x="42" y="276" width="3" height="37" fill="#32cd32"/>
<rect x="51" y="291" width="1" height="37" fill="#ff0000"/>
<rect x="49" y="297" width="5" height="17" fill="#ff0000"/>
<rect x="50" y="298" width="3" height="15" fill="#ff4500"/>
<rect x="59" y="300" width="1" height="4" fill="#32cd32"/>
<rect x="57" y="302" width="5" height="2" fill="#32cd32"/>
<rect x="67" y="278" width="1" height="35" fill="#ff0000"/>
<rect x="65" y="285" width="5" height="19" fill="#ff0000"/>
<rect x="66" y="286" width="3" height="17" fill="#ff4500"/>
<rect x="75" y="246" width="1" height="47" fill="#ff0000"/>
<rect x="73" y="268" width="5" height="18" fill="#ff0000"/>
<rect x="74" y="269" width="3" height="16" fill="#ff4500"/>
<rect x="83" y="253" width="1" height="26" fill="#ff0000"/>
<rect x="81" y="262" width="5" height="7" fill="#ff0000"/>
<rect x="82" y="263" width="3" height="5" fill="#ff4500"/>
<rect x="91" y="262" width="1" height="38" fill="#32cd32"/>
<rect x="89" y="262" width="5" height="24" fill="#32cd32"/>
<rect x="90" y="263" width="3" height="22" fill="#32cd32"/>
<rect x="99" y="243" width="1" height="47" fill="#ff0000"/>
<rect x="97" y="255" width="5" height="31" fill="#ff0000"/>
<rect x="98" y="256" width="3" height="29" fill="#ff4500"/>
<rect x="107" y="244" width="1" height="5" fill="#ff0000"/>
<rect x="105" y="247" width="5" height="2" fill="#ff0000"/>
<rect x="115" y="240" width="1" height="31" fill="#ff0000"/>
<rect x="113" y="246" width="5" height="3" fill="#ff0000"/>
<rect x="114" y="247" width="3" height="1" fill="#ff4500"/>
<rect x="123" y="239" width="1" height="39" fill="#32cd32"/>
<rect x="121" y="246" width="5" height="31" fill="#32cd32"/>
<rect x="122" y="247" width="3" height="29" fill="#32cd32"/>
<rect x="131" y="260" width="1" height="33" fill="#32cd32"/>
<rect x="129" y="276" width="5" height="7" fill="#32cd32"/>
<rect x="130" y="277" width="3" height="5" fill="#32cd32"/>
<rect x="139" y="268" width="1" height="19" fill="#ff0000"/>
<rect x="137" y="275" width="5" height="8" fill="#ff0000"/>
<rect x="138" y="276" width="3" height="6" fill="#ff4500"/>
<rect x="147" y="269" width="1" height="17" fill="#32cd32"/>
<rect x="145" y="275" width="5" height="3" fill="#32cd32"/>
<rect x="146" y="276" width="3" height="1" fill="#32cd32"/>
<rect x="155" y="275" width="1" height="5" fill="#ff0000"/>
<rect x="153" y="276" width="5" height="4" fill="#ff0000"/>
<rect x="154" y="277" width="3" height="2" fill="#ff4500"/>
<rect x="163" y="241" width="1" height="37" fill="#ff0000"/>
<rect x="161" y="248" width="5" height="29" fill="#ff0000"/>
<rect x="162" y="249" width="3" height="27" fill="#ff4500"/>
<rect x="171" y="207" width="1" height="42" fill="#ff0000"/>
<rect x="169" y="219" width="5" height="30" fill="#ff0000"/>
<rect x="170" y="220" width="3" height="28" fill="#ff4500"/>
<rect x="179" y="199" width="1" height="36" fill="#ff0000"/>
<rect x="177" y="199" width="5" height="21" fill="#ff0000"/>
<rect x="178" y="200" width="3" height="19" fill="#ff4500"/>
<rect x="187" y="110" width="1" height="92" fill="#ff0000"/>
<rect x="185" y="110" width="5" height="90" fill="#ff0000"/>
<rect x="186" y="111" width="3" height="88" fill="#ff4500"/>
<rect x="195" y="108" width="1" height="12" fill="#ff0000"/>
<rect x="193" y="108" width="5" height="3" fill="#ff0000"/>
<rect x="194" y="109" width="3" height="1" fill="#ff4500"/>
<rect x="203" y="111" width="1" height="6" fill="#32cd32"/>
<rect x="201" y="111" width="5" height="3" fill="#32cd32"/>
<rect x="202" y="112" width="3" height="1" fill="#32cd32"/>
<rect x="211" y="113" width="1" height="98" fill="#32cd32"/>
<rect x="209" y="113" width="5" height="93" fill="#32cd32"/>
<rect x="210" y="114" width="3" height="91" fill="#32cd32"/>
<rect x="219" y="202" width="1" height="43" fill="#32cd32"/>
<rect x="217" y="204" width="5" height="31" fill="#32cd32"/>
<rect x="218" y="205" width="3" height="29" fill="#32cd32"/>
<rect x="227" y="210" width="1" height="31" fill="#32cd32"/>
<rect x="225" y="235" width="5" height="5" fill="#32cd32"/>
<rect x="226" y="236" width="3" height="3" fill="#32cd32"/>
<rect x="235" y="183" width="1" height="58" fill="#ff0000"/>
<rect x="233" y="187" width="5" height="53" fill="#ff0000"/>
<rect x="234" y="188" width="3" height="51" fill="#ff4500"/>
<rect x="243" y="176" width="1" height="55" fill="#32cd32"/>
<rect x="241" y="186" width="5" height="38" fill="#32cd32"/>
<rect x="242" y="187" width="3" height="36" fill="#32cd32"/>
<rect x="251" y="224" width="1" height="5" fill="#32cd32"/>
<rect x="249" y="225" width="5" height="2" fill="#32cd32"/>
<rect x="259" y="215" width="1" height="33" fill="#32cd32"/>
<rect x="257" y="226" width="5" height="3" fill="#32cd32"/>
<rect x="258" y="227" width="3" height="1" fill="#32cd32"/>
<rect x="267" y="205" width="1" height="45" fill="#ff0000"/>
<rect x="265" y="224" width="5" height="5" fill="#ff0000"/>
<rect x="266" y="225" width="3" height="3" fill="#ff4500"/>
<rect x="275" y="213" width="1" height="31" fill="#ff0000"/>
<rect x="273" y="221" width="5" height="5" fill="#ff0000"/>
<rect x="274" y="222" width="3" height="3" fill="#ff4500"/>
<rect x="283" y="213" width="1" height="48" fill="#32cd32"/>
<rect x="281" y="222" width="5" height="37" fill="#32cd32"/>
<rect x="282" y="223" width="3" height="35" fill="#32cd32"/>
<rect x="291" y="255" width="1" height="36" fill="#32cd32"/>
<rect x="289" y="258" width="5" height="22" fill="#32cd32"/>
<rect x="290" y="259" width="3" height="20" fill="#32cd32"/>
<rect x="299" y="269" width="1" height="5" fill="#ff0000"/>
<rect x="297" y="269" width="5" height="4" fill="#ff0000"/>
<rect x="298" y="270" width="3" height="2" fill="#ff4500"/>
<rect x="307" y="255" width="1" height="20" fill="#ff0000"/>
<rect x="305" y="268" width="5" height="3" fill="#ff0000"/>
<rect x="306" y="269" width="3" height="1" fill="#ff4500"/>
<rect x="315" y="203" width="1" height="74" fill="#ff0000"/>
<rect x="313" y="208" width="5" height="61" fill="#ff0000"/>
<rect x="314" y="209" width="3" height="59" fill="#ff4500"/>
<rect x="323" y="147" width="1" height="69" fill="#ff0000"/>
<rect x="321" y="183" width="5" height="27" fill="#ff0000"/>
<rect x="322" y="184" width="3" height="25" fill="#ff4500"/>
<rect x="331" y="165" width="1" height="58" fill="#32cd32"/>
<rect x="329" y="183" width="5" height="16" fill="#32cd32"/>
<rect x="330" y="184" width="3" height="14" fill="#32cd32"/>
<rect x="339" y="194" width="1" height="49" fill="#32cd32"/>
<rect x="337" y="198" width="5" height="5" fill="#32cd32"/>
<rect x="338" y="199" width="3" height="3" fill="#32cd32"/>
<rect x="347" y="188" width="1" height="5" fill="#32cd32"/>
<rect x="345" y="188" width="5" height="3" fill="#32cd32"/>
<rect x="346" y="189" width="3" height="1" fill="#32cd32"/>
<rect x="355" y="183" width="1" height="27" fill="#32cd32"/>
<rect x="353" y="191" width="5" height="17" fill="#32cd32"/>
<rect x="354" y="192" width="3" height="15" fill="#32cd32"/>
<rect x="363" y="181" width="1" height="53" fill="#ff0000"/>
<rect x="361" y="185" width="5" height="23" fill="#ff0000"/>
<rect x="362" y="186" width="3" height="21" fill="#ff4500"/>
<rect x="371" y="175" width="1" height="50" fill="#32cd32"/>
<rect x="369" y="185" width="5" height="39" fill="#32cd32"/>
<rect x="370" y="186" width="3" height="37" fill="#32cd32"/>
<rect x="379" y="181" width="1" height="44" fill="#ff0000"/>
<rect x="377" y="190" width="5" height="35" fill="#ff0000"/>
<rect x="378" y="191" width="3" height="33" fill="#ff4500"/>
<rect x="387" y="147" width="1" height="72" fill="#ff0000"/>
<rect x="385" y="155" width="5" height="35" fill="#ff0000"/>
<rect x="386" y="156" width="3" height="33" fill="#ff4500"/>
<rect x="395" y="142" width="1" height="6" fill="#ff0000"/>
<rect x="393" y="145" width="5" height="1" fill="#ff0000"/>
<rect x="403" y="76" width="1" height="72" fill="#ff0000"/>
<rect x="401" y="125" width="5" height="21" fill="#ff0000"/>
<rect x="402" y="126" width="3" height="19" fill="#ff4500"/>
<rect x="411" y="101" width="1" height="57" fill="#ff0000"/>
<rect x="409" y="118" width="5" height="8" fill="#ff0000"/>
<rect x="410" y="119" width="3" height="6" fill="#ff4500"/>
<rect x="419" y="113" width="1" height="70" fill="#32cd32"/>
<rect x="417" y="117" width="5" height="18" fill="#32cd32"/>
<rect x="418" y="118" width="3" height="16" fill="#32cd32"/>
<rect x="427" y="129" width="1" height="87" fill="#32cd32"/>
<rect x="425" y="134" width="5" height="67" fill="#32cd32"/>
<rect x="426" y="135" width="3" height="65" fill="#32cd32"/>
<rect x="435" y="164" width="1" height="48" fill="#32cd32"/>
<rect x="433" y="200" width="5" height="2" fill="#32cd32"/>
<rect x="443" y="203" width="1" height="6" fill="#32cd32"/>
<rect x="441" y="205" width="5" height="2" fill="#32cd32"/>
<rect x="451" y="196" width="1" height="32" fill="#32cd32"/>
<rect x="449" y="206" width="5" height="15" fill="#32cd32"/>
<rect x="450" y="207" width="3" height="13" fill="#32cd32"/>
<rect x="459" y="176" width="1" height="61" fill="#ff0000"/>
<rect x="457" y="192" width="5" height="27" fill="#ff0000"/>
<rect x="458" y="193" width="3" height="25" fill="#ff4500"/>
<rect x="467" y="141" width="1" height="57" fill="#ff0000"/>
<rect x="465" y="151" width="5" height="42" fill="#ff0000"/>
<rect x="466" y="152" width="3" height="40" fill="#ff4500"/>
<rect x="475" y="150" width="1" height="68" fill="#32cd32"/>
<rect x="473" y="150" width="5" height="40" fill="#32cd32"/>
<rect x="474" y="151" width="3" height="38" fill="#32cd32"/>
<rect x="483" y="159" width="1" height="60" fill="#32cd32"/>
<rect x="481" y="188" width="5" height="27" fill="#32cd32"/>
<rect x="482" y="189" width="3" height="25" fill="#32cd32"/>
<rect x="491" y="216" width="1" height="7" fill="#ff0000"/>
<rect x="489" y="219" width="5" height="4" fill="#ff0000"/>
<rect x="490" y="220" width="3" height="2" fill="#ff4500"/>
<rect x="499" y="204" width="1" height="52" fill="#32cd32"/>
<rect x="497" y="218" width="5" height="21" fill="#32cd32"/>
<rect x="498" y="219" width="3" height="19" fill="#32cd32"/>
<rect x="507" y="217" width="1" height="46" fill="#32cd32"/>
<rect x="505" y="238" width="5" height="5" fill="#32cd32"/>
<rect x="506" y="239" width="3" height="3" fill="#32cd32"/>
<rect x="515" y="207" width="1" height="36" fill="#ff0000"/>
<rect x="513" y="240" width="5" height="2" fill="#ff0000"/>
<rect x="523" y="233" width="1" height="33" fill="#32cd32"/>
<rect x="521" y="240" width="5" height="22" fill="#32cd32"/>
<rect x="522" y="241" width="3" height="20" fill="#32cd32"/>
<rect x="531" y="253" width="1" height="60" fill="#32cd32"/>
<rect x="529" y="260" width="5" height="48" fill="#32cd32"/>
<rect x="530" y="261" width="3" height="46" fill="#32cd32"/>
<rect x="539" y="293" width="1" height="8" fill="#ff0000"/>
<rect x="537" y="294" width="5" height="5" fill="#ff0000"/>
<rect x="538" y="295" width="3" height="3" fill="#ff4500"/>
<rect x="547" y="290" width="1" height="25" fill="#32cd32"/>
<rect x="545" y="294" width="5" height="3" fill="#32cd32"/>
<rect x="546" y="295" width="3" height="1" fill="#32cd32"/>
<rect x="555" y="287" width="1" height="35" fill="#32cd32"/>
<rect x="553" y="296" width="5" height="3" fill="#32cd32"/>
<rect x="554" y="297" width="3" height="1" fill="#32cd32"/>
<rect x="563" y="296" width="1" height="28" fill="#32cd32"/>
<rect x="561" y="298" width="5" height="22" fill="#32cd32"/>
<rect x="562" y="299" width="3" height="20" fill="#32cd32"/>
<rect x="571" y="318" width="1" height="46" fill="#32cd32"/>
<rect x="569" y="318" width="5" height="35" fill="#32cd32"/>
<rect x="570" y="319" width="3" height="33" fill="#32cd32"/>
<rect x="579" y="340" width="1" height="34" fill="#ff0000"/>
<rect x="577" y="348" width="5" height="5" fill="#ff0000"/>
<rect x="578" y="349" width="3" height="3" fill="#ff4500"/>
<rect x="587" y="353" width="1" height="6" fill="#ff0000"/>
<rect x="585" y="353" width="5" height="4" fill="#ff0000"/>
<rect x="586" y="354" width="3" height="2" fill="#ff4500"/>
<rect x="595" y="334" width="1" height="32" fill="#32cd32"/>
<rect x="593" y="353" width="5" height="2" fill="#32cd32"/>
<rect x="603" y="353" width="1" height="34" fill="#32cd32"/>
<rect x="601" y="354" width="5" height="10" fill="#32cd32"/>
<rect x="602" y="355" width="3" height="8" fill="#32cd32"/>
<rect x="611" y="357" width="1" height="32" fill="#32cd32"/>
<rect x="609" y="363" width="5" height="17" fill="#32cd32"/>
<rect x="610" y="364" width="3" height="15" fill="#32cd32"/>
<rect x="619" y="348" width="1" height="51" fill="#ff0000"/>
<rect x="617" y="355" width="5" height="25" fill="#ff0000"/>
<rect x="618" y="356" width="3" height="23" fill="#ff4500"/>
<rect x="627" y="345" width="1" height="37" fill="#32cd32"/>
<rect x="625" y="355" width="5" height="3" fill="#32cd32"/>
<rect x="626" y="356" width="3" height="1" fill="#32cd32"/>
<rect x="635" y="350" width="1" height="7" fill="#ff0000"/>
<rect x="633" y="354" width="5" height="3" fill="#ff0000"/>
<rect x="634" y="355" width="3" height="1" fill="#ff4500"/>
<rect x="643" y="339" width="1" height="34" fill="#ff0000"/>
<rect x="641" y="350" width="5" height="5" fill="#ff0000"/>
<rect x="642" y="351" width="3" height="3" fill="#ff4500"/>
<rect x="651" y="341" width="1" height="26" fill="#ff0000"/>
<rect x="649" y="344" width="5" height="8" fill="#ff0000"/>
<rect x="650" y="345" width="3" height="6" fill="#ff4500"/>
<rect x="659" y="322" width="1" height="71" fill="#32cd32"/>
<rect x="657" y="344" width="5" height="12" fill="#32cd32"/>
<rect x="658" y="345" width="3" height="10" fill="#32cd32"/>
<rect x="667" y="348" width="1" height="29" fill="#32cd32"/>
<rect x="665" y="355" width="5" height="13" fill="#32cd32"/>
<rect x="666" y="356" width="3" height="11" fill="#32cd32"/>
<rect x="675" y="335" width="1" height="43" fill="#ff0000"/>
<rect x="673" y="353" width="5" height="15" fill="#ff0000"/>
<rect x="674" y="354" width="3" height="13" fill="#ff4500"/>
<rect x="683" y="347" width="1" height="4" fill="#ff0000"/>
<rect x="681" y="348" width="5" height="2" fill="#ff0000"/>
<rect x="691" y="337" width="1" height="29" fill="#32cd32"/>
<rect x="689" y="349" width="5" height="5" fill="#32cd32"/>
<rect x="690" y="350" width="3" height="3" fill="#32cd32"/>
<rect x="699" y="326" width="1" height="29" fill="#ff0000"/>
<rect x="697" y="335" width="5" height="19" fill="#ff0000"/>
<rect x="698" y="336" width="3" height="17" fill="#ff4500"/>
<rect x="707" y="309" width="1" height="43" fill="#32cd32"/>
<rect x="705" y="334" width="5" height="18" fill="#32cd32"/>
<rect x="706" y="335" width="3" height="16" fill="#32cd32"/>
<rect x="715" y="301" width="1" height="51" fill="#ff0000"/>
<rect x="713" y="311" width="5" height="41" fill="#ff0000"/>
<rect x="714" y="312" width="3" height="39" fill="#ff4500"/>
<rect x="723" y="297" width="1" height="24" fill="#ff0000"/>
<rect x="721" y="308" width="5" height="4" fill="#ff0000"/>
<rect x="722" y="309" width="3" height="2" fill="#ff4500"/>
<rect x="731" y="309" width="1" height="6" fill="#32cd32"/>
<rect x="729" y="311" width="5" height="1" fill="#32cd32"/>
<rect x="739" y="304" width="1" height="17" fill="#32cd32"/>
<rect x="737" y="312" width="5" height="5" fill="#32cd32"/>
<rect x="738" y="313" width="3" height="3" fill="#32cd32"/>
<rect x="747" y="294" width="1" height="31" fill="#32cd32"/>
<rect x="745" y="316" width="5" height="5" fill="#32cd32"/>
<rect x="746" y="317" width="3" height="3" fill="#32cd32"/>
<rect x="755" y="284" width="1" height="63" fill="#ff0000"/>
<rect x="753" y="293" width="5" height="28" fill="#ff0000"/>
<rect x="754" y="294" width="3" height="26" fill="#ff4500"/>
<rect x="763" y="235" width="1" height="62" fill="#ff0000"/>
<rect x="761" y="239" width="5" height="55" fill="#ff0000"/>
<rect x="762" y="240" width="3" height="53" fill="#ff4500"/>
<rect x="771" y="231" width="1" height="32" fill="#32cd32"/>
<rect x="769" y="239" width="5" height="19" fill="#32cd32"/>
<rect x="770" y="240" width="3" height="17" fill="#32cd32"/>
<rect x="779" y="259" width="1" height="6" fill="#ff0000"/>
<rect x="777" y="262" width="5" height="2" fill="#ff0000"/>
<rect x="787" y="257" width="1" height="29" fill="#32cd32"/>
<rect x="785" y="262" width="5" height="17" fill="#32cd32"/>
<rect x="786" y="263" width="3" height="15" fill="#32cd32"/>
<rect x="795" y="250" width="1" height="41" fill="#ff0000"/>
<rect x="793" y="251" width="5" height="29" fill="#ff0000"/>
<rect x="794" y="252" width="3" height="27" fill="#ff4500"/>
<rect x="803" y="221" width="1" height="45" fill="#ff0000"/>
<rect x="801" y="227" width="5" height="25" fill="#ff0000"/>
<rect x="802" y="228" width="3" height="23" fill="#ff4500"/>
<rect x="811" y="208" width="1" height="30" fill="#32cd32"/>
<rect x="809" y="228" width="5" height="4" fill="#32cd32"/>
<rect x="810" y="229" width="3" height="2" fill="#32cd32"/>
<rect x="819" y="200" width="1" height="42" fill="#ff0000"/>
<rect x="817" y="201" width="5" height="31" fill="#ff0000"/>
<rect x="818" y="202" width="3" height="29" fill="#ff4500"/>
<rect x="827" y="204" width="1" height="9" fill="#ff0000"/>
<rect x="825" y="204" width="5" height="8" fill="#ff0000"/>
<rect x="826" y="205" width="3" height="6" fill="#ff4500"/>
<rect x="835" y="177" width="1" height="42" fill="#ff0000"/>
<rect x="833" y="179" width="5" height="27" fill="#ff0000"/>
<rect x="834" y="180" width="3" height="25" fill="#ff4500"/>
<rect x="843" y="156" width="1" height="46" fill="#32cd32"/>
<rect x="841" y="179" width="5" height="15" fill="#32cd32"/>
<rect x="842" y="180" width="3" height="13" fill="#32cd32"/>
<rect x="851" y="175" width="1" height="32" fill="#32cd32"/>
<rect x="849" y="193" width="5" height="8" fill="#32cd32"/>
<rect x="850" y="194" width="3" height="6" fill="#32cd32"/>
<rect x="859" y="192" width="1" height="21" fill="#ff0000"/>
<rect x="857" y="199" width="5" height="2" fill="#ff0000"/>
<rect x="867" y="127" width="1" height="75" fill="#ff0000"/>
<rect x="865" y="135" width="5" height="65" fill="#ff0000"/>
<rect x="866" y="136" width="3" height="63" fill="#ff4500"/>
<rect x="875" y="149" width="1" height="19" fill="#32cd32"/>
<rect x="873" y="149" width="5" height="19" fill="#32cd32"/>
<rect x="874" y="150" width="3" height="17" fill="#32cd32"/>
<rect x="883" y="131" width="1" height="39" fill="#ff0000"/>
<rect x="881" y="160" width="5" height="8" fill="#ff0000"/>
<rect x="882" y="161" width="3" height="6" fill="#ff4500"/>
<rect x="891" y="107" width="1" height="57" fill="#ff0000"/>
<rect x="889" y="141" width="5" height="20" fill="#ff0000"/>
<rect x="890" y="142" width="3" height="18" fill="#ff4500"/>
<rect x="899" y="111" width="1" height="63" fill="#ff0000"/>
<rect x="897" y="121" width="5" height="21" fill="#ff0000"/>
<rect x="898" y="122" width="3" height="19" fill="#ff4500"/>
<rect x="907" y="107" width="1" height="33" fill="#ff0000"/>
<rect x="905" y="117" width="5" height="5" fill="#ff0000"/>
<rect x="906" y="118" width="3" height="3" fill="#ff4500"/>
<rect x="915" y="103" width="1" height="55" fill="#ff0000"/>
<rect x="913" y="107" width="5" height="11" fill="#ff0000"/>
<rect x="914" y="108" width="3" height="9" fill="#ff4500"/>
</g>
<rect x="2" y="81" width="6" height="6" fill="#ff0000"/><rect x="4" y="83" width="2" height="2" fill="#ffffff"/>
<rect x="1159" y="81" width="6" height="6" fill="#ff0000"/><rect x="1161" y="83" width="2" height="2" fill="#ffffff"/>
<rect x="2" y="149" width="6" height="6" fill="#ff0000"/><rect x="4" y="151" width="2" height="2" fill="#ffffff"/>
<rect x="1159" y="149" width="6" height="6" fill="#ff0000"/><rect x="1161" y="151" width="2" height="2" fill="#ffffff"/>
<rect x="2" y="219" width="6" height="6" fill="#00ff00"/><rect x="4" y="221" width="2" height="2" fill="#ffffff"/>
<rect x="1159" y="219" width="6" height="6" fill="#00ff00"/><rect x="1161" y="221" width="2" height="2" fill="#ffffff"/>
<rect x="2" y="282" width="6" height="6" fill="#0000ff"/><rect x="4" y="284" width="2" height="2" fill="#ffffff"/>
<rect x="1159" y="282" width="6" height="6" fill="#0000ff"/><rect x="1161" y="284" width="2" height="2" fill="#ffffff"/>
<rect x="2" y="346" width="6" height="6" fill="#0000ff"/><rect x="4" y="348" width="2" height="2" fill="#ffffff"/>
<rect x="1159" y="346" width="6" height="6" fill="#0000ff"/><rect x="1161" y="348" width="2" height="2" fill="#ffffff"/>
<rect x="2" y="402" width="6" height="6" fill="#0000ff"/><rect x="4" y="404" width="2" height="2" fill="#ffffff"/>
<rect x="1159" y="402" width="6" height="6" fill="#0000ff"/><rect x="1161" y="404" width="2" height="2" fill="#ffffff"/>
<rect x="1166" y="42" width="2" height="1" fill="#000"/>
<text x="1171.5" y="46" font-family='"Liberation Sans", sans-serif' font-size="9.7" font-weight="400" fill="#000" stroke="#000" stroke-width="0.2" text-anchor="start" textLength="32.5" lengthAdjust="spacingAndGlyphs">1.29585</text>
<rect x="1166" y="75" width="2" height="1" fill="#000"/>
<text x="1171.5" y="79" font-family='"Liberation Sans", sans-serif' font-size="9.7" font-weight="400" fill="#000" stroke="#000" stroke-width="0.2" text-anchor="start" textLength="32.5" lengthAdjust="spacingAndGlyphs">1.28970</text>
<rect x="1166" y="108" width="2" height="1" fill="#000"/>
<rect x="1166" y="141" width="2" height="1" fill="#000"/>
<text x="1171.5" y="145" font-family='"Liberation Sans", sans-serif' font-size="9.7" font-weight="400" fill="#000" stroke="#000" stroke-width="0.2" text-anchor="start" textLength="32.5" lengthAdjust="spacingAndGlyphs">1.27725</text>
<rect x="1166" y="174" width="2" height="1" fill="#000"/>
<text x="1171.5" y="178" font-family='"Liberation Sans", sans-serif' font-size="9.7" font-weight="400" fill="#000" stroke="#000" stroke-width="0.2" text-anchor="start" textLength="32.5" lengthAdjust="spacingAndGlyphs">1.27095</text>
<rect x="1166" y="207" width="2" height="1" fill="#000"/>
<text x="1171.5" y="211" font-family='"Liberation Sans", sans-serif' font-size="9.7" font-weight="400" fill="#000" stroke="#000" stroke-width="0.2" text-anchor="start" textLength="32.5" lengthAdjust="spacingAndGlyphs">1.26480</text>
<rect x="1166" y="240" width="2" height="1" fill="#000"/>
<text x="1171.5" y="244" font-family='"Liberation Sans", sans-serif' font-size="9.7" font-weight="400" fill="#000" stroke="#000" stroke-width="0.2" text-anchor="start" textLength="32.5" lengthAdjust="spacingAndGlyphs">1.25850</text>
<rect x="1166" y="273" width="2" height="1" fill="#000"/>
<text x="1171.5" y="277" font-family='"Liberation Sans", sans-serif' font-size="9.7" font-weight="400" fill="#000" stroke="#000" stroke-width="0.2" text-anchor="start" textLength="32.5" lengthAdjust="spacingAndGlyphs">1.25235</text>
<rect x="1166" y="306" width="2" height="1" fill="#000"/>
<text x="1171.5" y="310" font-family='"Liberation Sans", sans-serif' font-size="9.7" font-weight="400" fill="#000" stroke="#000" stroke-width="0.2" text-anchor="start" textLength="32.5" lengthAdjust="spacingAndGlyphs">1.24605</text>
<rect x="1166" y="339" width="2" height="1" fill="#000"/>
<text x="1171.5" y="343" font-family='"Liberation Sans", sans-serif' font-size="9.7" font-weight="400" fill="#000" stroke="#000" stroke-width="0.2" text-anchor="start" textLength="32.5" lengthAdjust="spacingAndGlyphs">1.23990</text>
<rect x="1166" y="372" width="2" height="1" fill="#000"/>
<text x="1171.5" y="376" font-family='"Liberation Sans", sans-serif' font-size="9.7" font-weight="400" fill="#000" stroke="#000" stroke-width="0.2" text-anchor="start" textLength="32.5" lengthAdjust="spacingAndGlyphs">1.23375</text>
<rect x="1167" y="78" width="40" height="11" fill="#ff0000"/>
<text x="1171.5" y="87" font-family='"Liberation Sans", sans-serif' font-size="9.7" font-weight="400" fill="#ffffff" stroke="#ffffff" stroke-width="0.2" text-anchor="start" textLength="32.5" lengthAdjust="spacingAndGlyphs">1.28792</text>
<rect x="1167" y="146" width="40" height="11" fill="#ff0000"/>
<text x="1171.5" y="155" font-family='"Liberation Sans", sans-serif' font-size="9.7" font-weight="400" fill="#ffffff" stroke="#ffffff" stroke-width="0.2" text-anchor="start" textLength="32.5" lengthAdjust="spacingAndGlyphs">1.27519</text>
<rect x="1167" y="216" width="40" height="11" fill="#00ff00"/>
<text x="1171.5" y="225" font-family='"Liberation Sans", sans-serif' font-size="9.7" font-weight="400" fill="#ffffff" stroke="#ffffff" stroke-width="0.2" text-anchor="start" textLength="32.5" lengthAdjust="spacingAndGlyphs">1.26204</text>
<rect x="1167" y="279" width="40" height="11" fill="#0000ff"/>
<text x="1171.5" y="288" font-family='"Liberation Sans", sans-serif' font-size="9.7" font-weight="400" fill="#ffffff" stroke="#ffffff" stroke-width="0.2" text-anchor="start" textLength="32.5" lengthAdjust="spacingAndGlyphs">1.25008</text>
<rect x="1167" y="343" width="40" height="11" fill="#0000ff"/>
<text x="1171.5" y="352" font-family='"Liberation Sans", sans-serif' font-size="9.7" font-weight="400" fill="#ffffff" stroke="#ffffff" stroke-width="0.2" text-anchor="start" textLength="32.5" lengthAdjust="spacingAndGlyphs">1.23812</text>
<rect x="1167" y="399" width="40" height="11" fill="#0000ff"/>
<text x="1171.5" y="408" font-family='"Liberation Sans", sans-serif' font-size="9.7" font-weight="400" fill="#ffffff" stroke="#ffffff" stroke-width="0.2" text-anchor="start" textLength="32.5" lengthAdjust="spacingAndGlyphs">1.22751</text>
<rect x="1166" y="84" width="1" height="1" fill="#000"/>
<rect x="1166" y="152" width="1" height="1" fill="#000"/>
<rect x="1166" y="222" width="1" height="1" fill="#000"/>
<rect x="1166" y="285" width="1" height="1" fill="#000"/>
<rect x="1166" y="349" width="1" height="1" fill="#000"/>
<rect x="1166" y="405" width="1" height="1" fill="#000"/>
<rect x="1167" y="102" width="40" height="11" fill="#000"/>
<text x="1171.5" y="111" font-family='"Liberation Sans", sans-serif' font-size="9.7" font-weight="400" fill="#fff" stroke="#fff" stroke-width="0.2" text-anchor="start" textLength="32.5" lengthAdjust="spacingAndGlyphs">1.28370</text>
<polygon points="6,40 13,40 9.5,36" fill="#000" shape-rendering="auto"/>
<text x="18.3" y="41" font-family='"Liberation Sans", sans-serif' font-size="9.5" font-weight="400" fill="#000" stroke="#000" stroke-width="0.2" text-anchor="start" textLength="69" lengthAdjust="spacingAndGlyphs">USDCAD-,Daily</text>
<text x="92.8" y="41" font-family='"Liberation Sans", sans-serif' font-size="9.5" font-weight="400" fill="#000" stroke="#000" stroke-width="0.2" text-anchor="start" textLength="141.5" lengthAdjust="spacingAndGlyphs">1.28168 1.28449 1.27426 1.28370</text>
<g clip-path="url(#cmacd)">
<rect x="2" y="417" width="3" height="29" fill="#bebebe"/>
<rect x="10" y="418" width="3" height="28" fill="#bebebe"/>
<rect x="18" y="421" width="3" height="25" fill="#bebebe"/>
<rect x="26" y="423" width="3" height="23" fill="#bebebe"/>
<rect x="34" y="426" width="3" height="20" fill="#bebebe"/>
<rect x="42" y="430" width="3" height="16" fill="#bebebe"/>
<rect x="50" y="433" width="3" height="13" fill="#bebebe"/>
<rect x="58" y="436" width="3" height="10" fill="#bebebe"/>
<rect x="66" y="438" width="3" height="8" fill="#bebebe"/>
<rect x="74" y="438" width="3" height="8" fill="#bebebe"/>
<rect x="82" y="438" width="3" height="8" fill="#bebebe"/>
<rect x="90" y="439" width="3" height="7" fill="#bebebe"/>
<rect x="98" y="439" width="3" height="7" fill="#bebebe"/>
<rect x="106" y="437" width="3" height="9" fill="#bebebe"/>
<rect x="114" y="437" width="3" height="9" fill="#bebebe"/>
<rect x="122" y="439" width="3" height="7" fill="#bebebe"/>
<rect x="130" y="440" width="3" height="6" fill="#bebebe"/>
<rect x="138" y="441" width="3" height="5" fill="#bebebe"/>
<rect x="146" y="441" width="3" height="5" fill="#bebebe"/>
<rect x="154" y="442" width="3" height="4" fill="#bebebe"/>
<rect x="162" y="440" width="3" height="6" fill="#bebebe"/>
<rect x="170" y="439" width="3" height="7" fill="#bebebe"/>
<rect x="178" y="436" width="3" height="10" fill="#bebebe"/>
<rect x="186" y="429" width="3" height="17" fill="#bebebe"/>
<rect x="194" y="423" width="3" height="23" fill="#bebebe"/>
<rect x="202" y="419" width="3" height="27" fill="#bebebe"/>
<rect x="210" y="422" width="3" height="24" fill="#bebebe"/>
<rect x="218" y="426" width="3" height="20" fill="#bebebe"/>
<rect x="226" y="429" width="3" height="17" fill="#bebebe"/>
<rect x="234" y="429" width="3" height="17" fill="#bebebe"/>
<rect x="242" y="432" width="3" height="14" fill="#bebebe"/>
<rect x="250" y="434" width="3" height="12" fill="#bebebe"/>
<rect x="258" y="436" width="3" height="10" fill="#bebebe"/>
<rect x="266" y="437" width="3" height="9" fill="#bebebe"/>
<rect x="274" y="438" width="3" height="8" fill="#bebebe"/>
<rect x="282" y="441" width="3" height="5" fill="#bebebe"/>
<rect x="290" y="444" width="3" height="2" fill="#bebebe"/>
<rect x="298" y="446" width="3" height="3" fill="#bebebe"/>
<rect x="306" y="446" width="3" height="4" fill="#bebebe"/>
<rect x="314" y="446" width="3" height="2" fill="#bebebe"/>
<rect x="322" y="442" width="3" height="4" fill="#bebebe"/>
<rect x="330" y="442" width="3" height="4" fill="#bebebe"/>
<rect x="338" y="441" width="3" height="5" fill="#bebebe"/>
<rect x="346" y="440" width="3" height="6" fill="#bebebe"/>
<rect x="354" y="440" width="3" height="6" fill="#bebebe"/>
<rect x="362" y="438" width="3" height="8" fill="#bebebe"/>
<rect x="370" y="440" width="3" height="6" fill="#bebebe"/>
<rect x="378" y="439" width="3" height="7" fill="#bebebe"/>
<rect x="386" y="436" width="3" height="10" fill="#bebebe"/>
<rect x="394" y="434" width="3" height="12" fill="#bebebe"/>
<rect x="402" y="431" width="3" height="15" fill="#bebebe"/>
<rect x="410" y="429" width="3" height="17" fill="#bebebe"/>
<rect x="418" y="428" width="3" height="18" fill="#bebebe"/>
<rect x="426" y="431" width="3" height="15" fill="#bebebe"/>
<rect x="434" y="435" width="3" height="11" fill="#bebebe"/>
<rect x="442" y="436" width="3" height="10" fill="#bebebe"/>
<rect x="450" y="439" width="3" height="7" fill="#bebebe"/>
<rect x="458" y="440" width="3" height="6" fill="#bebebe"/>
<rect x="466" y="439" width="3" height="7" fill="#bebebe"/>
<rect x="474" y="439" width="3" height="7" fill="#bebebe"/>
<rect x="482" y="442" width="3" height="4" fill="#bebebe"/>
<rect x="490" y="444" width="3" height="2" fill="#bebebe"/>
<rect x="498" y="445" width="3" height="1" fill="#bebebe"/>
<rect x="506" y="446" width="3" height="5" fill="#bebebe"/>
<rect x="514" y="446" width="3" height="6" fill="#bebebe"/>
<rect x="522" y="446" width="3" height="9" fill="#bebebe"/>
<rect x="530" y="446" width="3" height="13" fill="#bebebe"/>
<rect x="538" y="446" width="3" height="16" fill="#bebebe"/>
<rect x="546" y="446" width="3" height="18" fill="#bebebe"/>
<rect x="554" y="446" width="3" height="19" fill="#bebebe"/>
<rect x="562" y="446" width="3" height="21" fill="#bebebe"/>
<rect x="570" y="446" width="3" height="24" fill="#bebebe"/>
<rect x="578" y="446" width="3" height="27" fill="#bebebe"/>
<rect x="586" y="446" width="3" height="28" fill="#bebebe"/>
<rect x="594" y="446" width="3" height="29" fill="#bebebe"/>
<rect x="602" y="446" width="3" height="30" fill="#bebebe"/>
<rect x="610" y="446" width="3" height="31" fill="#bebebe"/>
<rect x="618" y="446" width="3" height="31" fill="#bebebe"/>
<rect x="626" y="446" width="3" height="30" fill="#bebebe"/>
<rect x="634" y="446" width="3" height="28" fill="#bebebe"/>
<rect x="642" y="446" width="3" height="28" fill="#bebebe"/>
<rect x="650" y="446" width="3" height="26" fill="#bebebe"/>
<rect x="658" y="446" width="3" height="25" fill="#bebebe"/>
<rect x="666" y="446" width="3" height="25" fill="#bebebe"/>
<rect x="674" y="446" width="3" height="23" fill="#bebebe"/>
<rect x="682" y="446" width="3" height="22" fill="#bebebe"/>
<rect x="690" y="446" width="3" height="21" fill="#bebebe"/>
<rect x="698" y="446" width="3" height="19" fill="#bebebe"/>
<rect x="706" y="446" width="3" height="18" fill="#bebebe"/>
<rect x="714" y="446" width="3" height="14" fill="#bebebe"/>
<rect x="722" y="446" width="3" height="12" fill="#bebebe"/>
<rect x="730" y="446" width="3" height="10" fill="#bebebe"/>
<rect x="738" y="446" width="3" height="8" fill="#bebebe"/>
<rect x="746" y="446" width="3" height="7" fill="#bebebe"/>
<rect x="754" y="446" width="3" height="5" fill="#bebebe"/>
<rect x="762" y="444" width="3" height="2" fill="#bebebe"/>
<rect x="770" y="441" width="3" height="5" fill="#bebebe"/>
<rect x="778" y="439" width="3" height="7" fill="#bebebe"/>
<rect x="786" y="439" width="3" height="7" fill="#bebebe"/>
<rect x="794" y="437" width="3" height="9" fill="#bebebe"/>
<rect x="802" y="434" width="3" height="12" fill="#bebebe"/>
<rect x="810" y="433" width="3" height="13" fill="#bebebe"/>
<rect x="818" y="430" width="3" height="16" fill="#bebebe"/>
<rect x="826" y="428" width="3" height="18" fill="#bebebe"/>
<rect x="834" y="425" width="3" height="21" fill="#bebebe"/>
<rect x="842" y="424" width="3" height="22" fill="#bebebe"/>
<rect x="850" y="424" width="3" height="22" fill="#bebebe"/>
<rect x="858" y="424" width="3" height="22" fill="#bebebe"/>
<rect x="866" y="421" width="3" height="25" fill="#bebebe"/>
<rect x="874" y="420" width="3" height="26" fill="#bebebe"/>
<rect x="882" y="420" width="3" height="26" fill="#bebebe"/>
<rect x="890" y="419" width="3" height="27" fill="#bebebe"/>
<rect x="898" y="417" width="3" height="29" fill="#bebebe"/>
<rect x="906" y="416" width="3" height="30" fill="#bebebe"/>
<rect x="914" y="415" width="3" height="31" fill="#bebebe"/>
</g>
<path d="M3 415h20v1h-20zM23 416h5v1h-5zM28 417h5v1h-5zM33 418h5v1h-5zM38 419h4v1h-4zM913 419h3v1h-3zM42 420h3v1h-3zM907 420h6v1h-6zM45 421h4v1h-4zM902 421h5v1h-5zM49 422h3v1h-3zM896 422h6v1h-6zM52 423h3v1h-3zM889 423h7v1h-7zM55 424h4v1h-4zM883 424h6v1h-6zM59 425h3v1h-3zM877 425h6v1h-6zM62 426h3v1h-3zM872 426h5v1h-5zM65 427h4v1h-4zM235 427h13v1h-13zM867 427h5v1h-5zM69 428h3v1h-3zM229 428h6v1h-6zM248 428h12v1h-12zM862 428h5v1h-5zM72 429h3v1h-3zM225 429h4v1h-4zM260 429h7v1h-7zM857 429h5v1h-5zM75 430h4v1h-4zM221 430h4v1h-4zM267 430h5v1h-5zM852 430h5v1h-5zM79 431h4v1h-4zM217 431h4v1h-4zM272 431h3v1h-3zM847 431h5v1h-5zM83 432h4v1h-4zM212 432h5v1h-5zM275 432h4v1h-4zM842 432h5v1h-5zM87 433h5v1h-5zM207 433h5v1h-5zM279 433h3v1h-3zM439 433h16v1h-16zM837 433h5v1h-5zM92 434h4v1h-4zM202 434h5v1h-5zM282 434h3v1h-3zM424 434h15v1h-15zM455 434h19v1h-19zM833 434h4v1h-4zM96 435h5v1h-5zM198 435h4v1h-4zM285 435h4v1h-4zM417 435h7v1h-7zM474 435h2v1h-2zM829 435h4v1h-4zM101 436h4v1h-4zM195 436h3v1h-3zM289 436h3v1h-3zM412 436h5v1h-5zM476 436h3v1h-3zM825 436h4v1h-4zM105 437h8v1h-8zM192 437h3v1h-3zM292 437h4v1h-4zM407 437h5v1h-5zM479 437h5v1h-5zM821 437h4v1h-4zM113 438h16v1h-16zM189 438h3v1h-3zM296 438h4v1h-4zM402 438h5v1h-5zM484 438h6v1h-6zM818 438h3v1h-3zM129 439h20v1h-20zM179 439h10v1h-10zM300 439h4v1h-4zM396 439h6v1h-6zM490 439h7v1h-7zM816 439h2v1h-2zM149 440h30v1h-30zM304 440h6v1h-6zM389 440h7v1h-7zM497 440h6v1h-6zM813 440h3v1h-3zM310 441h7v1h-7zM383 441h6v1h-6zM503 441h5v1h-5zM811 441h2v1h-2zM317 442h8v1h-8zM372 442h11v1h-11zM508 442h5v1h-5zM808 442h3v1h-3zM325 443h47v1h-47zM513 443h5v1h-5zM804 443h4v1h-4zM518 444h4v1h-4zM801 444h3v1h-3zM522 445h4v1h-4zM798 445h3v1h-3zM526 446h4v1h-4zM794 446h4v1h-4zM530 447h4v1h-4zM790 447h4v1h-4zM534 448h4v1h-4zM786 448h4v1h-4zM538 449h4v1h-4zM782 449h4v1h-4zM542 450h3v1h-3zM779 450h3v1h-3zM545 451h2v1h-2zM775 451h4v1h-4zM547 452h3v1h-3zM772 452h3v1h-3zM550 453h3v1h-3zM768 453h4v1h-4zM553 454h2v1h-2zM763 454h5v1h-5zM555 455h3v1h-3zM758 455h5v1h-5zM558 456h3v1h-3zM753 456h5v1h-5zM561 457h4v1h-4zM748 457h5v1h-5zM565 458h4v1h-4zM744 458h4v1h-4zM569 459h4v1h-4zM740 459h4v1h-4zM573 460h4v1h-4zM736 460h4v1h-4zM577 461h4v1h-4zM732 461h4v1h-4zM581 462h3v1h-3zM728 462h4v1h-4zM584 463h4v1h-4zM724 463h4v1h-4zM588 464h3v1h-3zM720 464h4v1h-4zM591 465h3v1h-3zM716 465h4v1h-4zM594 466h4v1h-4zM712 466h4v1h-4zM598 467h4v1h-4zM708 467h4v1h-4zM602 468h5v1h-5zM698 468h10v1h-10zM607 469h5v1h-5zM689 469h9v1h-9zM612 470h5v1h-5zM685 470h4v1h-4zM617 471h6v1h-6zM681 471h4v1h-4zM623 472h7v1h-7zM669 472h12v1h-12zM630 473h39v1h-39z" fill="#ff0000"/>
<text x="7" y="423" font-family='"Liberation Sans", sans-serif' font-size="9.5" font-weight="400" fill="#000" stroke="#000" stroke-width="0.2" text-anchor="start" textLength="148" lengthAdjust="spacingAndGlyphs">MACD(12,26,9) 0.008516 0.007202</text>
<rect x="1166" y="446" width="2" height="1" fill="#000"/>
<rect x="1166" y="412" width="2" height="1" fill="#000"/>
<text x="1169.5" y="421" font-family='"Liberation Sans", sans-serif' font-size="9.5" font-weight="400" fill="#000" stroke="#000" stroke-width="0.2" text-anchor="start" textLength="41" lengthAdjust="spacingAndGlyphs">0.009345</text>
<text x="1169.5" y="450" font-family='"Liberation Sans", sans-serif' font-size="9.5" font-weight="400" fill="#000" stroke="#000" stroke-width="0.2" text-anchor="start" textLength="19.5" lengthAdjust="spacingAndGlyphs">0.00</text>
<text x="1169" y="476" font-family='"Liberation Sans", sans-serif' font-size="9.5" font-weight="400" fill="#000" stroke="#000" stroke-width="0.2" text-anchor="start" textLength="45" lengthAdjust="spacingAndGlyphs">-0.008902</text>
<line x1="3" y1="503.5" x2="1165" y2="503.5" stroke="#c0c0c0" stroke-width="1" stroke-dasharray="3,3" stroke-dashoffset="-1"/>
<line x1="3" y1="531.5" x2="1165" y2="531.5" stroke="#c0c0c0" stroke-width="1" stroke-dasharray="3,3" stroke-dashoffset="-1"/>
<path d="M187 500h10v1h-10zM186 501h1v1h-1zM197 501h4v1h-4zM867 501h1v1h-1zM185 502h1v1h-1zM201 502h3v1h-3zM865 502h2v1h-2zM868 502h1v1h-1zM903 502h13v1h-13zM183 503h2v1h-2zM204 503h1v1h-1zM833 503h4v1h-4zM864 503h1v1h-1zM869 503h2v1h-2zM897 503h6v1h-6zM182 504h1v1h-1zM204 504h1v1h-1zM818 504h5v1h-5zM829 504h4v1h-4zM837 504h2v1h-2zM863 504h1v1h-1zM871 504h1v1h-1zM893 504h4v1h-4zM181 505h1v1h-1zM205 505h1v1h-1zM764 505h1v1h-1zM815 505h3v1h-3zM823 505h6v1h-6zM839 505h3v1h-3zM861 505h2v1h-2zM872 505h1v1h-1zM887 505h6v1h-6zM180 506h1v1h-1zM205 506h1v1h-1zM763 506h1v1h-1zM765 506h2v1h-2zM813 506h2v1h-2zM842 506h5v1h-5zM860 506h1v1h-1zM873 506h2v1h-2zM879 506h8v1h-8zM178 507h2v1h-2zM206 507h1v1h-1zM407 507h6v1h-6zM762 507h1v1h-1zM767 507h2v1h-2zM801 507h12v1h-12zM847 507h13v1h-13zM875 507h4v1h-4zM175 508h3v1h-3zM207 508h1v1h-1zM401 508h6v1h-6zM413 508h2v1h-2zM761 508h1v1h-1zM769 508h2v1h-2zM797 508h4v1h-4zM173 509h2v1h-2zM207 509h1v1h-1zM397 509h4v1h-4zM415 509h3v1h-3zM759 509h2v1h-2zM771 509h5v1h-5zM794 509h3v1h-3zM170 510h3v1h-3zM208 510h1v1h-1zM391 510h6v1h-6zM418 510h2v1h-2zM758 510h1v1h-1zM776 510h6v1h-6zM792 510h2v1h-2zM168 511h2v1h-2zM209 511h1v1h-1zM386 511h5v1h-5zM420 511h1v1h-1zM757 511h1v1h-1zM782 511h2v1h-2zM790 511h2v1h-2zM3 512h11v1h-11zM25 512h4v1h-4zM166 512h2v1h-2zM209 512h1v1h-1zM322 512h3v1h-3zM384 512h2v1h-2zM421 512h1v1h-1zM467 512h1v1h-1zM756 512h1v1h-1zM784 512h2v1h-2zM788 512h2v1h-2zM14 513h4v1h-4zM21 513h4v1h-4zM29 513h2v1h-2zM103 513h14v1h-14zM164 513h2v1h-2zM210 513h1v1h-1zM235 513h2v1h-2zM318 513h4v1h-4zM325 513h4v1h-4zM343 513h6v1h-6zM362 513h2v1h-2zM382 513h2v1h-2zM422 513h1v1h-1zM465 513h2v1h-2zM468 513h2v1h-2zM755 513h1v1h-1zM786 513h2v1h-2zM18 514h3v1h-3zM31 514h3v1h-3zM98 514h5v1h-5zM117 514h2v1h-2zM162 514h2v1h-2zM210 514h1v1h-1zM233 514h2v1h-2zM237 514h2v1h-2zM316 514h2v1h-2zM329 514h14v1h-14zM349 514h2v1h-2zM359 514h3v1h-3zM364 514h2v1h-2zM380 514h2v1h-2zM423 514h1v1h-1zM463 514h2v1h-2zM470 514h2v1h-2zM753 514h2v1h-2zM34 515h2v1h-2zM74 515h12v1h-12zM96 515h2v1h-2zM119 515h3v1h-3zM159 515h3v1h-3zM211 515h2v1h-2zM231 515h2v1h-2zM239 515h2v1h-2zM315 515h1v1h-1zM351 515h3v1h-3zM357 515h2v1h-2zM366 515h1v1h-1zM378 515h2v1h-2zM424 515h1v1h-1zM462 515h1v1h-1zM472 515h2v1h-2zM719 515h8v1h-8zM751 515h2v1h-2zM36 516h2v1h-2zM70 516h4v1h-4zM86 516h4v1h-4zM94 516h2v1h-2zM122 516h3v1h-3zM157 516h2v1h-2zM213 516h2v1h-2zM230 516h1v1h-1zM241 516h2v1h-2zM314 516h1v1h-1zM354 516h3v1h-3zM367 516h2v1h-2zM375 516h3v1h-3zM425 516h1v1h-1zM460 516h2v1h-2zM474 516h2v1h-2zM715 516h4v1h-4zM727 516h8v1h-8zM750 516h1v1h-1zM38 517h2v1h-2zM66 517h4v1h-4zM90 517h4v1h-4zM125 517h4v1h-4zM135 517h22v1h-22zM215 517h3v1h-3zM228 517h2v1h-2zM243 517h34v1h-34zM312 517h2v1h-2zM369 517h2v1h-2zM373 517h2v1h-2zM426 517h1v1h-1zM458 517h2v1h-2zM476 517h2v1h-2zM714 517h1v1h-1zM735 517h8v1h-8zM748 517h2v1h-2zM40 518h2v1h-2zM62 518h4v1h-4zM129 518h6v1h-6zM218 518h10v1h-10zM277 518h2v1h-2zM311 518h1v1h-1zM371 518h2v1h-2zM427 518h12v1h-12zM455 518h3v1h-3zM478 518h2v1h-2zM713 518h1v1h-1zM743 518h5v1h-5zM42 519h2v1h-2zM49 519h13v1h-13zM279 519h2v1h-2zM310 519h1v1h-1zM439 519h8v1h-8zM453 519h2v1h-2zM480 519h3v1h-3zM712 519h1v1h-1zM44 520h5v1h-5zM281 520h2v1h-2zM309 520h1v1h-1zM447 520h6v1h-6zM483 520h10v1h-10zM712 520h1v1h-1zM283 521h3v1h-3zM304 521h5v1h-5zM493 521h4v1h-4zM699 521h3v1h-3zM711 521h1v1h-1zM286 522h4v1h-4zM296 522h8v1h-8zM497 522h6v1h-6zM511 522h6v1h-6zM697 522h2v1h-2zM702 522h2v1h-2zM710 522h1v1h-1zM290 523h6v1h-6zM503 523h8v1h-8zM517 523h2v1h-2zM694 523h3v1h-3zM704 523h3v1h-3zM709 523h1v1h-1zM519 524h3v1h-3zM680 524h6v1h-6zM692 524h2v1h-2zM707 524h2v1h-2zM522 525h2v1h-2zM676 525h4v1h-4zM686 525h6v1h-6zM524 526h2v1h-2zM646 526h8v1h-8zM673 526h3v1h-3zM526 527h2v1h-2zM537 527h20v1h-20zM639 527h7v1h-7zM654 527h6v1h-6zM670 527h3v1h-3zM528 528h2v1h-2zM533 528h4v1h-4zM557 528h4v1h-4zM631 528h8v1h-8zM660 528h4v1h-4zM668 528h2v1h-2zM530 529h3v1h-3zM561 529h4v1h-4zM623 529h8v1h-8zM664 529h4v1h-4zM565 530h2v1h-2zM618 530h5v1h-5zM567 531h3v1h-3zM575 531h8v1h-8zM616 531h2v1h-2zM570 532h5v1h-5zM583 532h16v1h-16zM614 532h2v1h-2zM599 533h8v1h-8zM612 533h2v1h-2zM607 534h5v1h-5z" fill="#1e90ff"/>
<text x="7" y="494" font-family='"Liberation Sans", sans-serif' font-size="9.5" font-weight="400" fill="#000" stroke="#000" stroke-width="0.2" text-anchor="start" textLength="68" lengthAdjust="spacingAndGlyphs">RSI(14) 72.7254</text>
<text x="1169.5" y="492" font-family='"Liberation Sans", sans-serif' font-size="9.5" font-weight="400" fill="#000" stroke="#000" stroke-width="0.2" text-anchor="start" textLength="14.5" lengthAdjust="spacingAndGlyphs">100</text>
<text x="1169.5" y="507.5" font-family='"Liberation Sans", sans-serif' font-size="9.5" font-weight="400" fill="#000" stroke="#000" stroke-width="0.2" text-anchor="start" textLength="9.5" lengthAdjust="spacingAndGlyphs">70</text>
<text x="1169.5" y="535" font-family='"Liberation Sans", sans-serif' font-size="9.5" font-weight="400" fill="#000" stroke="#000" stroke-width="0.2" text-anchor="start" textLength="9.5" lengthAdjust="spacingAndGlyphs">30</text>
<text x="1169.5" y="549.5" font-family='"Liberation Sans", sans-serif' font-size="9.5" font-weight="400" fill="#000" stroke="#000" stroke-width="0.2" text-anchor="start" textLength="5" lengthAdjust="spacingAndGlyphs">0</text>
<rect x="1166" y="481" width="1" height="1" fill="#000"/><rect x="1166" y="553" width="1" height="1" fill="#000"/>
<rect x="3" y="554" width="1" height="3" fill="#000"/>
<text x="1.5" y="566" font-family='"Liberation Sans", sans-serif' font-size="10" font-weight="700" fill="#000" text-anchor="start" textLength="47.4" lengthAdjust="spacingAndGlyphs">23 Jul 2021</text>
<rect x="67" y="554" width="1" height="3" fill="#000"/>
<text x="65.5" y="566" font-family='"Liberation Sans", sans-serif' font-size="10" font-weight="700" fill="#000" text-anchor="start" textLength="48" lengthAdjust="spacingAndGlyphs">2 Aug 2021</text>
<rect x="131" y="554" width="1" height="3" fill="#000"/>
<text x="129.5" y="566" font-family='"Liberation Sans", sans-serif' font-size="10" font-weight="700" fill="#000" text-anchor="start" textLength="53" lengthAdjust="spacingAndGlyphs">11 Aug 2021</text>
<rect x="195" y="554" width="1" height="3" fill="#000"/>
<text x="193.5" y="566" font-family='"Liberation Sans", sans-serif' font-size="10" font-weight="700" fill="#000" text-anchor="start" textLength="53.4" lengthAdjust="spacingAndGlyphs">20 Aug 2021</text>
<rect x="259" y="554" width="1" height="3" fill="#000"/>
<text x="257.5" y="566" font-family='"Liberation Sans", sans-serif' font-size="10" font-weight="700" fill="#000" text-anchor="start" textLength="53" lengthAdjust="spacingAndGlyphs">30 Aug 2021</text>
<rect x="323" y="554" width="1" height="3" fill="#000"/>
<text x="321.5" y="566" font-family='"Liberation Sans", sans-serif' font-size="10" font-weight="700" fill="#000" text-anchor="start" textLength="48" lengthAdjust="spacingAndGlyphs">8 Sep 2021</text>
<rect x="387" y="554" width="1" height="3" fill="#000"/>
<text x="385.5" y="566" font-family='"Liberation Sans", sans-serif' font-size="10" font-weight="700" fill="#000" text-anchor="start" textLength="52.2" lengthAdjust="spacingAndGlyphs">17 Sep 2021</text>
<rect x="451" y="554" width="1" height="3" fill="#000"/>
<text x="449.5" y="566" font-family='"Liberation Sans", sans-serif' font-size="10" font-weight="700" fill="#000" text-anchor="start" textLength="52" lengthAdjust="spacingAndGlyphs">27 Sep 2021</text>
<rect x="515" y="554" width="1" height="3" fill="#000"/>
<text x="513.5" y="566" font-family='"Liberation Sans", sans-serif' font-size="10" font-weight="700" fill="#000" text-anchor="start" textLength="46.6" lengthAdjust="spacingAndGlyphs">6 Oct 2021</text>
<rect x="579" y="554" width="1" height="3" fill="#000"/>
<text x="577.5" y="566" font-family='"Liberation Sans", sans-serif' font-size="10" font-weight="700" fill="#000" text-anchor="start" textLength="51.1" lengthAdjust="spacingAndGlyphs">15 Oct 2021</text>
<rect x="643" y="554" width="1" height="3" fill="#000"/>
<text x="641.5" y="566" font-family='"Liberation Sans", sans-serif' font-size="10" font-weight="700" fill="#000" text-anchor="start" textLength="51.4" lengthAdjust="spacingAndGlyphs">25 Oct 2021</text>
<rect x="707" y="554" width="1" height="3" fill="#000"/>
<text x="705.5" y="566" font-family='"Liberation Sans", sans-serif' font-size="10" font-weight="700" fill="#000" text-anchor="start" textLength="49" lengthAdjust="spacingAndGlyphs">3 Nov 2021</text>
<rect x="771" y="554" width="1" height="3" fill="#000"/>
<text x="769.5" y="566" font-family='"Liberation Sans", sans-serif' font-size="10" font-weight="700" fill="#000" text-anchor="start" textLength="53.2" lengthAdjust="spacingAndGlyphs">12 Nov 2021</text>
<rect x="835" y="554" width="1" height="3" fill="#000"/>
<text x="833.5" y="566" font-family='"Liberation Sans", sans-serif' font-size="10" font-weight="700" fill="#000" text-anchor="start" textLength="54" lengthAdjust="spacingAndGlyphs">22 Nov 2021</text>
<rect x="899" y="554" width="1" height="3" fill="#000"/>
<text x="897.5" y="566" font-family='"Liberation Sans", sans-serif' font-size="10" font-weight="700" fill="#000" text-anchor="start" textLength="47.4" lengthAdjust="spacingAndGlyphs">1 Dec 2021</text>
<rect x="0" y="574" width="1207" height="1" fill="#e4e4e4"/>
<rect x="0" y="575" width="1207" height="1" fill="#ffffff"/>
<rect x="0" y="576" width="1207" height="1" fill="#000"/>
<rect x="0" y="577" width="1207" height="1" fill="#fafafa"/>
<rect x="0" y="578" width="1207" height="18" fill="#f0f0f0"/>
<rect x="0" y="596" width="1207" height="1" fill="#ffffff"/>
<rect x="0" y="597" width="1207" height="2" fill="#f0f0f0"/>
<rect x="0" y="599" width="1207" height="1" fill="#c4c4c4"/>
<rect x="0" y="600" width="1207" height="1" fill="#a0a0a0"/>
<rect x="415" y="577" width="1" height="17" fill="#ffffff"/>
<rect x="417" y="576" width="106" height="18" fill="#ffffff"/>
<rect x="416" y="576" width="1" height="19" fill="#000"/><rect x="523" y="576" width="1" height="19" fill="#000"/><rect x="416" y="594" width="108" height="1" fill="#000"/>
<text x="15.5" y="591" font-family='"Liberation Sans", sans-serif' font-size="11.8" font-weight="400" fill="#808080" text-anchor="start" textLength="77.5" lengthAdjust="spacingAndGlyphs">USDX,Weekly</text>
<text x="115.3" y="591" font-family='"Liberation Sans", sans-serif' font-size="11.8" font-weight="400" fill="#808080" text-anchor="start" textLength="84.5" lengthAdjust="spacingAndGlyphs">EURUSD-,Daily</text>
<text x="222" y="591" font-family='"Liberation Sans", sans-serif' font-size="11.8" font-weight="400" fill="#808080" text-anchor="start" textLength="87" lengthAdjust="spacingAndGlyphs">AUDUSD-,Daily</text>
<text x="332.4" y="591" font-family='"Liberation Sans", sans-serif' font-size="11.8" font-weight="400" fill="#808080" text-anchor="start" textLength="71.3" lengthAdjust="spacingAndGlyphs">USDCHF-,H4</text>
<text x="427" y="591" font-family='"Liberation Sans", sans-serif' font-size="11.8" font-weight="400" fill="#000" text-anchor="start" textLength="86" lengthAdjust="spacingAndGlyphs">USDCAD-,Daily</text>
<text x="536.6" y="591" font-family='"Liberation Sans", sans-serif' font-size="11.8" font-weight="400" fill="#808080" text-anchor="start" textLength="87" lengthAdjust="spacingAndGlyphs">USDCNH-,Daily</text>
<text x="647.2" y="591" font-family='"Liberation Sans", sans-serif' font-size="11.8" font-weight="400" fill="#808080" text-anchor="start" textLength="85.3" lengthAdjust="spacingAndGlyphs">XAUUSD-,Daily</text>
<text x="755" y="591" font-family='"Liberation Sans", sans-serif' font-size="11.8" font-weight="400" fill="#808080" text-anchor="start" textLength="69.2" lengthAdjust="spacingAndGlyphs">UKOil-,Daily</text>
<text x="848.3" y="591" font-family='"Liberation Sans", sans-serif' font-size="11.8" font-weight="400" fill="#808080" text-anchor="start" textLength="52" lengthAdjust="spacingAndGlyphs">DJ30-,H4</text>
<text x="923.3" y="591" font-family='"Liberation Sans", sans-serif' font-size="11.8" font-weight="400" fill="#808080" text-anchor="start" textLength="73.2" lengthAdjust="spacingAndGlyphs">UK100-,Daily</text>
<rect x="104" y="579" width="1" height="14" fill="#808080"/>
<rect x="212" y="579" width="1" height="14" fill="#808080"/>
<rect x="320" y="579" width="1" height="14" fill="#808080"/>
<rect x="636" y="579" width="1" height="14" fill="#808080"/>
<rect x="744" y="579" width="1" height="14" fill="#808080"/>
<rect x="836" y="579" width="1" height="14" fill="#808080"/>
<rect x="912" y="579" width="1" height="14" fill="#808080"/>
<rect x="1009" y="579" width="1" height="14" fill="#808080"/>
<polygon points="1184,582 1184,589 1180.5,585.5" fill="#808080" shape-rendering="auto"/>
<polygon points="1200,582 1200,589 1203.5,585.5" fill="#808080" shape-rendering="auto"/>
<rect x="4" y="47" width="223" height="61" fill="#ffffff"/>
<rect x="6" y="49" width="52" height="24" fill="#0000a0"/>
<rect x="7" y="50" width="50" height="23" fill="url(#gbtn)"/>
<rect x="6" y="73" width="109" height="33" fill="#0000a0"/>
<rect x="7" y="74" width="107" height="31" fill="url(#gprice)"/>
<rect x="7" y="73" width="50" height="1" fill="#2a2ae6"/>
<rect x="10" y="72" width="45" height="1" fill="#2020b8"/><rect x="10" y="73" width="45" height="1" fill="#7a7af2"/>
<rect x="173" y="49" width="52" height="24" fill="#0000a0"/>
<rect x="174" y="50" width="50" height="23" fill="url(#gbtn)"/>
<rect x="117" y="73" width="108" height="33" fill="#0000a0"/>
<rect x="118" y="74" width="106" height="31" fill="url(#gprice)"/>
<rect x="174" y="73" width="50" height="1" fill="#2a2ae6"/>
<rect x="177" y="72" width="45" height="1" fill="#2020b8"/><rect x="177" y="73" width="45" height="1" fill="#7a7af2"/>
<rect x="60" y="49" width="111" height="22" fill="#a8a8ac"/>
<rect x="61" y="50" width="109" height="20" fill="#ffffff"/>
<rect x="81" y="49" width="1" height="22" fill="#a8a8ac"/><rect x="149" y="49" width="1" height="22" fill="#a8a8ac"/>
<rect x="62" y="51" width="18" height="18" fill="url(#garr)"/>
<rect x="151" y="51" width="18" height="18" fill="url(#garr)"/>
<polygon points="67.8,57.8 73.2,57.8 70.5,60.8" fill="#4a5ab0" shape-rendering="auto"/>
<polygon points="156.8,60.8 162.2,60.8 159.5,57.8" fill="#4a5ab0" shape-rendering="auto"/>
<text x="145.8" y="64" font-family='"Liberation Sans", sans-serif' font-size="12.5" font-weight="400" fill="#000" text-anchor="end" textLength="24" lengthAdjust="spacingAndGlyphs">3.00</text>
<text x="17.8" y="65" font-family='"Liberation Sans", sans-serif' font-size="13" font-weight="400" fill="#fff" text-anchor="start" textLength="27" lengthAdjust="spacingAndGlyphs">SELL</text>
<text x="185.5" y="65" font-family='"Liberation Sans", sans-serif' font-size="13" font-weight="400" fill="#fff" text-anchor="start" textLength="25.5" lengthAdjust="spacingAndGlyphs">BUY</text>
<text x="25.8" y="101" font-family='"Liberation Sans", sans-serif' font-size="12.5" font-weight="700" fill="#fff" text-anchor="start" textLength="25" lengthAdjust="spacingAndGlyphs">1.28</text>
<text x="52.8" y="101" font-family='"Liberation Sans", sans-serif' font-size="35" font-weight="400" fill="#fff" text-anchor="start" textLength="37" lengthAdjust="spacingAndGlyphs">37</text>
<text x="92.6" y="85" font-family='"Liberation Sans", sans-serif' font-size="11.5" font-weight="700" fill="#fff" text-anchor="start" textLength="8" lengthAdjust="spacingAndGlyphs">0</text>
<text x="135.8" y="101" font-family='"Liberation Sans", sans-serif' font-size="12.5" font-weight="700" fill="#fff" text-anchor="start" textLength="25" lengthAdjust="spacingAndGlyphs">1.28</text>
<text x="163.8" y="101" font-family='"Liberation Sans", sans-serif' font-size="35" font-weight="400" fill="#fff" text-anchor="start" textLength="37" lengthAdjust="spacingAndGlyphs">39</text>
<text x="204" y="85" font-family='"Liberation Sans", sans-serif' font-size="11.5" font-weight="700" fill="#fff" text-anchor="start" textLength="7.8" lengthAdjust="spacingAndGlyphs">2</text>
</svg>
</body></html>
